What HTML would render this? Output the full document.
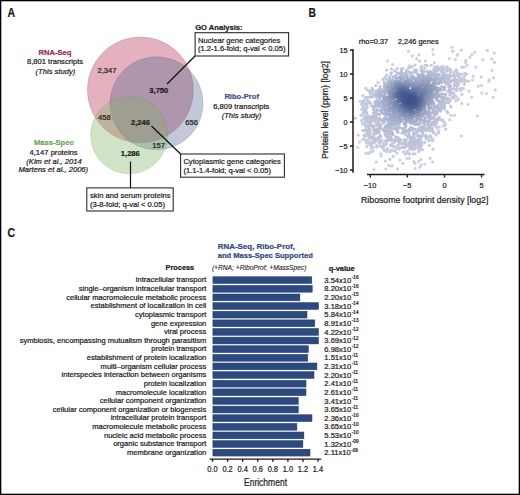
<!DOCTYPE html>
<html><head><meta charset="utf-8">
<style>
html,body{margin:0;padding:0;background:#fff;}
body{width:520px;height:495px;overflow:hidden;position:relative;}
svg{position:absolute;left:0;top:0;}
text{font-family:"Liberation Sans",sans-serif;fill:#1d1a1b;stroke:#1d1a1b;stroke-width:0.22px;}
.b{font-weight:bold;}
.i{font-style:italic;}
</style></head><body>
<svg width="520" height="495" viewBox="0 0 520 495">
<rect x="0.5" y="0.5" width="519" height="494" fill="#fff" stroke="#000" stroke-width="1.6"/>
<!-- Panel labels -->
<text x="7.6" y="17" class="b" font-size="12" transform="translate(7.6 0) scale(0.88 1) translate(-7.6 0)">A</text>
<text x="308.5" y="17.4" class="b" font-size="12" transform="translate(308.5 0) scale(0.86 1) translate(-308.5 0)">B</text>
<text x="7.6" y="237.5" class="b" font-size="12" transform="translate(7.6 0) scale(0.88 1) translate(-7.6 0)">C</text>

<!-- Venn -->
<circle cx="140.4" cy="89.9" r="53" fill="rgb(229,177,190)" stroke="rgba(110,70,85,0.22)" stroke-width="0.9"/>
<circle cx="156.5" cy="103.3" r="46.5" fill="rgb(78,101,144)" fill-opacity="0.35" stroke="rgba(60,75,110,0.22)" stroke-width="0.9"/>
<circle cx="129.1" cy="135.3" r="38.5" fill="rgb(126,178,98)" fill-opacity="0.35" stroke="rgba(80,110,70,0.18)" stroke-width="0.9"/>

<g font-size="7.6">
<text x="97.5" y="73">2,347</text>
<text x="149.3" y="92.8" class="b">3,750</text>
<text x="98" y="120">458</text>
<text x="131" y="124.5" class="b">2,246</text>
<text x="185.2" y="124.7">656</text>
<text x="152.2" y="148.4">157</text>
<text x="120.8" y="155.8" class="b">1,286</text>

<g text-anchor="middle">
<text x="55" y="55.1" class="b" style="fill:#9c2856;stroke:#9c2856">RNA-Seq</text>
<text x="55" y="64.4">8,801 transcripts</text>
<text x="55.4" y="73.6" class="i">(This study)</text>

<text x="241.7" y="99.1" class="b" style="fill:#3a4f85;stroke:#3a4f85">Ribo-Prof</text>
<text x="241.3" y="108.9">6,809 transcripts</text>
<text x="241.5" y="118.2" class="i">(This study)</text>

<text x="53.8" y="145" class="b" style="fill:#70a660;stroke:#70a660">Mass-Spec</text>
<text x="53.6" y="155">4,147 proteins</text>
<text x="54" y="163.8" class="i">(Kim et al., 2014</text>
<text x="53.3" y="172.4" class="i">Martens et al., 2006)</text>
</g>

<text x="195.2" y="29.7" class="b">GO Analysis:</text>
<text x="198" y="42.5">Nuclear gene categories</text>
<text x="198" y="51.1">(1.2-1.6-fold; q-val &lt; 0.05)</text>
<text x="183.4" y="164.2">Cytoplasmic gene categories</text>
<text x="183.4" y="173">(1.1-1.4-fold; q-val &lt; 0.05)</text>
<text x="90" y="198">skin and serum proteins</text>
<text x="90" y="207">(3-8-fold; q-val &lt; 0.05)</text>
</g>
<g fill="none" stroke="#2a2a2a" stroke-width="1.1">
<rect x="195.1" y="32.7" width="93.5" height="23.3"/>
<rect x="180.6" y="154" width="103.8" height="23.2"/>
<rect x="86.8" y="187.9" width="86.4" height="23.1"/>
<line x1="195" y1="56" x2="167" y2="84" stroke="#111" stroke-width="1.25"/>
<line x1="151.5" y1="126" x2="180.6" y2="154" stroke="#111" stroke-width="1.25"/>
<line x1="130.5" y1="161.5" x2="130.5" y2="188" stroke="#111" stroke-width="1.2"/>
</g>

<!-- Panel B -->
<g>
<circle cx="461.4" cy="136.0" r="1.6" fill="#ced1e3"/><circle cx="477.4" cy="115.8" r="1.6" fill="#ced1e3"/><circle cx="493.2" cy="97.4" r="1.6" fill="#ced1e3"/><circle cx="374.0" cy="169.4" r="1.6" fill="#ced1e3"/><circle cx="487.3" cy="50.4" r="1.6" fill="#ced1e3"/><circle cx="494.3" cy="53.1" r="1.6" fill="#ced1e3"/><circle cx="432.8" cy="49.6" r="1.6" fill="#ced1e3"/><circle cx="495.3" cy="89.9" r="1.6" fill="#ced1e3"/><circle cx="408.5" cy="51.3" r="1.6" fill="#ced1e3"/><circle cx="494.5" cy="62.4" r="1.6" fill="#ced1e3"/><circle cx="492.1" cy="70.4" r="1.6" fill="#ced1e3"/><circle cx="482.8" cy="59.7" r="1.6" fill="#ced1e3"/><circle cx="491.8" cy="59.0" r="1.6" fill="#ced1e3"/><circle cx="432.6" cy="161.9" r="1.6" fill="#ced1e3"/><circle cx="493.5" cy="77.7" r="1.6" fill="#ced1e3"/><circle cx="474.8" cy="52.3" r="1.6" fill="#ced1e3"/><circle cx="486.4" cy="93.5" r="1.6" fill="#ced1e3"/><circle cx="468.2" cy="104.5" r="1.6" fill="#ced1e3"/><circle cx="481.9" cy="92.9" r="1.6" fill="#ced1e3"/><circle cx="451.8" cy="47.3" r="1.6" fill="#ced1e3"/><circle cx="387.4" cy="61.0" r="1.6" fill="#ced1e3"/><circle cx="489.3" cy="79.9" r="1.6" fill="#ced1e3"/><circle cx="488.8" cy="81.5" r="1.6" fill="#ced1e3"/><circle cx="471.8" cy="54.7" r="1.6" fill="#ced1e3"/><circle cx="397.5" cy="168.8" r="1.6" fill="#ced1e3"/><circle cx="385.7" cy="169.0" r="1.6" fill="#ced1e3"/><circle cx="471.8" cy="97.1" r="1.6" fill="#ced1e3"/><circle cx="461.2" cy="50.2" r="1.6" fill="#ced1e3"/><circle cx="481.2" cy="76.9" r="1.6" fill="#ced1e3"/><circle cx="475.8" cy="67.2" r="1.6" fill="#ced1e3"/><circle cx="481.6" cy="85.5" r="1.6" fill="#ced1e3"/><circle cx="433.3" cy="54.5" r="1.6" fill="#ced1e3"/><circle cx="415.1" cy="168.6" r="1.6" fill="#ced1e3"/><circle cx="452.8" cy="51.1" r="1.6" fill="#ced1e3"/><circle cx="430.0" cy="158.2" r="1.6" fill="#ced1e3"/><circle cx="452.9" cy="51.3" r="1.6" fill="#ced1e3"/><circle cx="469.9" cy="57.4" r="1.6" fill="#ced1e3"/><circle cx="376.3" cy="162.1" r="1.6" fill="#ced1e3"/><circle cx="478.2" cy="86.2" r="1.6" fill="#ced1e3"/><circle cx="418.9" cy="54.8" r="1.6" fill="#ced1e3"/><circle cx="412.3" cy="55.8" r="1.6" fill="#ced1e3"/><circle cx="420.0" cy="167.2" r="1.6" fill="#ced1e3"/><circle cx="424.8" cy="164.1" r="1.6" fill="#ced1e3"/><circle cx="357.7" cy="147.5" r="1.6" fill="#ced1e3"/><circle cx="390.9" cy="166.0" r="1.6" fill="#ced1e3"/><circle cx="457.7" cy="54.6" r="1.6" fill="#ced1e3"/><circle cx="392.1" cy="165.8" r="1.6" fill="#ced1e3"/><circle cx="388.9" cy="165.6" r="1.6" fill="#ced1e3"/><circle cx="457.4" cy="55.2" r="1.6" fill="#cdd1e3"/><circle cx="421.2" cy="164.8" r="1.6" fill="#cdd1e3"/><circle cx="465.8" cy="60.5" r="1.6" fill="#cdd0e3"/><circle cx="402.9" cy="163.3" r="1.6" fill="#cdd0e3"/><circle cx="433.1" cy="149.2" r="1.6" fill="#cdd0e3"/><circle cx="454.4" cy="115.3" r="1.6" fill="#cdd0e3"/><circle cx="465.7" cy="62.4" r="1.6" fill="#cdd0e3"/><circle cx="461.7" cy="103.4" r="1.6" fill="#cdd0e3"/><circle cx="455.3" cy="59.3" r="1.6" fill="#cdd0e3"/><circle cx="449.4" cy="58.6" r="1.6" fill="#cdd0e3"/><circle cx="385.3" cy="161.0" r="1.6" fill="#cdd0e3"/><circle cx="473.3" cy="76.2" r="1.6" fill="#cdd0e3"/><circle cx="415.0" cy="163.4" r="1.6" fill="#cdd0e3"/><circle cx="467.0" cy="65.2" r="1.6" fill="#cdd0e2"/><circle cx="469.1" cy="91.0" r="1.6" fill="#cdd0e2"/><circle cx="365.9" cy="153.5" r="1.6" fill="#cdd0e2"/><circle cx="416.8" cy="58.7" r="1.6" fill="#cdd0e2"/><circle cx="418.7" cy="161.5" r="1.6" fill="#cdd0e2"/><circle cx="355.3" cy="118.3" r="1.6" fill="#cdd0e2"/><circle cx="392.6" cy="64.5" r="1.6" fill="#cdd0e2"/><circle cx="472.4" cy="80.0" r="1.6" fill="#cdd0e2"/><circle cx="399.9" cy="160.1" r="1.6" fill="#ccd0e2"/><circle cx="420.7" cy="159.6" r="1.6" fill="#ccd0e2"/><circle cx="413.9" cy="161.5" r="1.6" fill="#ccd0e2"/><circle cx="390.0" cy="159.4" r="1.6" fill="#ccd0e2"/><circle cx="367.5" cy="153.0" r="1.6" fill="#ccd0e2"/><circle cx="445.8" cy="129.2" r="1.6" fill="#ccd0e2"/><circle cx="369.1" cy="153.5" r="1.6" fill="#cccfe2"/><circle cx="449.7" cy="119.8" r="1.6" fill="#cccfe2"/><circle cx="359.6" cy="142.0" r="1.6" fill="#cccfe2"/><circle cx="358.2" cy="135.2" r="1.6" fill="#cccfe2"/><circle cx="381.3" cy="155.9" r="1.6" fill="#cccfe2"/><circle cx="365.7" cy="88.3" r="1.6" fill="#cccfe2"/><circle cx="451.0" cy="115.4" r="1.6" fill="#cccfe2"/><circle cx="463.8" cy="67.3" r="1.6" fill="#cccfe2"/><circle cx="425.4" cy="61.0" r="1.6" fill="#cccfe2"/><circle cx="419.5" cy="61.1" r="1.6" fill="#cccfe2"/><circle cx="370.1" cy="152.3" r="1.6" fill="#cbcfe2"/><circle cx="386.8" cy="70.2" r="1.6" fill="#cbcfe2"/><circle cx="461.7" cy="67.1" r="1.6" fill="#cbcfe1"/><circle cx="407.0" cy="158.3" r="1.6" fill="#cbcfe1"/><circle cx="393.1" cy="156.4" r="1.6" fill="#cbcfe1"/><circle cx="409.4" cy="158.3" r="1.6" fill="#cbcee1"/><circle cx="380.8" cy="153.8" r="1.6" fill="#cbcee1"/><circle cx="461.9" cy="94.6" r="1.6" fill="#cbcee1"/><circle cx="445.0" cy="125.3" r="1.6" fill="#cbcee1"/><circle cx="360.0" cy="101.2" r="1.6" fill="#cbcee1"/><circle cx="468.4" cy="81.3" r="1.6" fill="#cbcee1"/><circle cx="458.4" cy="99.3" r="1.6" fill="#cacee1"/><circle cx="429.3" cy="145.5" r="1.6" fill="#cacee1"/><circle cx="373.0" cy="151.3" r="1.6" fill="#cacee1"/><circle cx="466.6" cy="74.0" r="1.6" fill="#cacee1"/><circle cx="391.3" cy="68.8" r="1.6" fill="#cacee1"/><circle cx="445.0" cy="123.8" r="1.6" fill="#cacee1"/><circle cx="363.0" cy="95.7" r="1.6" fill="#cacee1"/><circle cx="432.8" cy="140.6" r="1.6" fill="#cacee1"/><circle cx="434.4" cy="62.6" r="1.6" fill="#cacee1"/><circle cx="443.3" cy="126.0" r="1.6" fill="#cacde0"/><circle cx="438.6" cy="133.0" r="1.6" fill="#cacde0"/><circle cx="366.9" cy="146.7" r="1.6" fill="#cacde0"/><circle cx="465.0" cy="73.3" r="1.6" fill="#cacde0"/><circle cx="362.3" cy="139.5" r="1.6" fill="#cacde0"/><circle cx="367.5" cy="90.1" r="1.6" fill="#cacde0"/><circle cx="455.9" cy="100.8" r="1.6" fill="#c9cde0"/><circle cx="371.2" cy="149.1" r="1.6" fill="#c9cde0"/><circle cx="432.8" cy="139.1" r="1.6" fill="#c9cde0"/><circle cx="463.4" cy="88.5" r="1.6" fill="#c9cde0"/><circle cx="465.1" cy="74.9" r="1.6" fill="#c9cde0"/><circle cx="437.9" cy="132.9" r="1.6" fill="#c9cde0"/><circle cx="466.2" cy="80.7" r="1.6" fill="#c9cde0"/><circle cx="396.9" cy="153.1" r="1.6" fill="#c9cde0"/><circle cx="431.6" cy="139.9" r="1.6" fill="#c9cde0"/><circle cx="435.9" cy="135.1" r="1.6" fill="#c9cde0"/><circle cx="361.6" cy="104.2" r="1.6" fill="#c9cce0"/><circle cx="444.0" cy="122.1" r="1.6" fill="#c9cce0"/><circle cx="415.2" cy="65.1" r="1.6" fill="#c9cce0"/><circle cx="409.4" cy="65.8" r="1.6" fill="#c9cce0"/><circle cx="387.2" cy="151.7" r="1.6" fill="#c9cce0"/><circle cx="362.7" cy="101.6" r="1.6" fill="#c8cce0"/><circle cx="438.7" cy="130.9" r="1.6" fill="#c8cce0"/><circle cx="390.2" cy="151.7" r="1.6" fill="#c8cce0"/><circle cx="405.4" cy="154.2" r="1.6" fill="#c8cce0"/><circle cx="460.9" cy="90.5" r="1.6" fill="#c8cce0"/><circle cx="447.9" cy="112.8" r="1.6" fill="#c8cce0"/><circle cx="464.4" cy="84.3" r="1.6" fill="#c8cce0"/><circle cx="386.0" cy="150.8" r="1.6" fill="#c8cce0"/><circle cx="384.4" cy="150.4" r="1.6" fill="#c8ccdf"/><circle cx="361.0" cy="115.3" r="1.6" fill="#c8ccdf"/><circle cx="363.6" cy="100.7" r="1.6" fill="#c8ccdf"/><circle cx="390.3" cy="151.0" r="1.6" fill="#c8ccdf"/><circle cx="450.9" cy="107.0" r="1.6" fill="#c8ccdf"/><circle cx="425.3" cy="65.1" r="1.6" fill="#c8ccdf"/><circle cx="366.7" cy="143.2" r="1.6" fill="#c8ccdf"/><circle cx="422.4" cy="149.7" r="1.6" fill="#c8ccdf"/><circle cx="456.4" cy="69.8" r="1.6" fill="#c8ccdf"/><circle cx="456.3" cy="96.6" r="1.6" fill="#c8ccdf"/><circle cx="464.5" cy="81.7" r="1.6" fill="#c8ccdf"/><circle cx="372.7" cy="147.4" r="1.6" fill="#c8cbdf"/><circle cx="464.0" cy="76.5" r="1.6" fill="#c8cbdf"/><circle cx="361.9" cy="109.7" r="1.6" fill="#c8cbdf"/><circle cx="415.0" cy="153.8" r="1.6" fill="#c8cbdf"/><circle cx="409.2" cy="154.1" r="1.6" fill="#c8cbdf"/><circle cx="378.1" cy="82.5" r="1.6" fill="#c7cbdf"/><circle cx="394.7" cy="151.0" r="1.6" fill="#c7cbdf"/><circle cx="390.6" cy="150.5" r="1.6" fill="#c7cbdf"/><circle cx="397.2" cy="68.7" r="1.6" fill="#c7cbdf"/><circle cx="373.2" cy="147.4" r="1.6" fill="#c7cbdf"/><circle cx="461.2" cy="88.5" r="1.6" fill="#c7cbdf"/><circle cx="383.6" cy="149.3" r="1.6" fill="#c7cbdf"/><circle cx="412.9" cy="153.9" r="1.6" fill="#c7cbdf"/><circle cx="365.5" cy="97.5" r="1.6" fill="#c7cbdf"/><circle cx="365.3" cy="140.3" r="1.6" fill="#c7cbdf"/><circle cx="361.7" cy="120.7" r="1.6" fill="#c7cbdf"/><circle cx="461.8" cy="74.0" r="1.6" fill="#c7cbdf"/><circle cx="363.6" cy="102.9" r="1.6" fill="#c7cbdf"/><circle cx="364.4" cy="100.6" r="1.6" fill="#c7cbdf"/><circle cx="392.7" cy="150.3" r="1.6" fill="#c7cbdf"/><circle cx="412.2" cy="66.7" r="1.6" fill="#c7cbdf"/><circle cx="450.6" cy="106.3" r="1.6" fill="#c7cbdf"/><circle cx="427.2" cy="65.5" r="1.6" fill="#c7cbdf"/><circle cx="431.3" cy="65.3" r="1.6" fill="#c7cbdf"/><circle cx="370.7" cy="145.7" r="1.6" fill="#c7cbdf"/><circle cx="447.2" cy="66.8" r="1.6" fill="#c7cbdf"/><circle cx="408.9" cy="153.5" r="1.6" fill="#c7cbdf"/><circle cx="363.0" cy="106.7" r="1.6" fill="#c7cbdf"/><circle cx="428.7" cy="140.5" r="1.6" fill="#c7cbdf"/><circle cx="369.5" cy="91.2" r="1.6" fill="#c7cbdf"/><circle cx="455.6" cy="70.3" r="1.6" fill="#c7cbdf"/><circle cx="463.7" cy="78.8" r="1.6" fill="#c7cbdf"/><circle cx="362.9" cy="130.3" r="1.6" fill="#c7cbdf"/><circle cx="386.6" cy="75.2" r="1.6" fill="#c7cbdf"/><circle cx="364.4" cy="137.3" r="1.6" fill="#c7cbdf"/><circle cx="463.6" cy="79.5" r="1.6" fill="#c7cbdf"/><circle cx="410.3" cy="67.2" r="1.6" fill="#c7cbdf"/><circle cx="403.4" cy="151.9" r="1.6" fill="#c7cbdf"/><circle cx="439.4" cy="127.0" r="1.6" fill="#c7cbdf"/><circle cx="362.4" cy="123.8" r="1.6" fill="#c6cbdf"/><circle cx="372.1" cy="88.7" r="1.6" fill="#c6cade"/><circle cx="418.6" cy="151.3" r="1.6" fill="#c6cade"/><circle cx="394.2" cy="70.5" r="1.6" fill="#c6cade"/><circle cx="364.1" cy="135.2" r="1.6" fill="#c6cade"/><circle cx="369.9" cy="144.3" r="1.6" fill="#c6cade"/><circle cx="383.4" cy="148.0" r="1.6" fill="#c6cade"/><circle cx="446.6" cy="67.2" r="1.6" fill="#c6cade"/><circle cx="454.1" cy="97.9" r="1.6" fill="#c6cade"/><circle cx="387.4" cy="148.7" r="1.6" fill="#c6cade"/><circle cx="421.6" cy="66.4" r="1.6" fill="#c6cade"/><circle cx="363.5" cy="108.2" r="1.6" fill="#c6cade"/><circle cx="372.4" cy="88.6" r="1.6" fill="#c6cade"/><circle cx="442.4" cy="120.0" r="1.6" fill="#c6cade"/><circle cx="459.7" cy="88.8" r="1.6" fill="#c6cade"/><circle cx="430.8" cy="136.7" r="1.6" fill="#c6cade"/><circle cx="408.0" cy="152.6" r="1.6" fill="#c6cade"/><circle cx="375.8" cy="85.6" r="1.6" fill="#c6cade"/><circle cx="446.8" cy="111.3" r="1.6" fill="#c6cade"/><circle cx="377.0" cy="146.8" r="1.6" fill="#c6cade"/><circle cx="362.8" cy="114.1" r="1.6" fill="#c6cade"/><circle cx="454.8" cy="96.1" r="1.6" fill="#c6cade"/><circle cx="430.6" cy="136.6" r="1.6" fill="#c6cade"/><circle cx="366.9" cy="97.4" r="1.6" fill="#c6cade"/><circle cx="420.3" cy="149.6" r="1.6" fill="#c6cade"/><circle cx="442.1" cy="120.2" r="1.6" fill="#c6cade"/><circle cx="443.2" cy="66.5" r="1.6" fill="#c6cade"/><circle cx="434.2" cy="132.7" r="1.6" fill="#c6cade"/><circle cx="382.3" cy="147.2" r="1.6" fill="#c6cade"/><circle cx="385.0" cy="77.3" r="1.6" fill="#c6cade"/><circle cx="402.6" cy="68.5" r="1.6" fill="#c6cade"/><circle cx="457.5" cy="72.5" r="1.6" fill="#c6cade"/><circle cx="459.8" cy="74.3" r="1.6" fill="#c6cade"/><circle cx="449.8" cy="69.0" r="1.6" fill="#c5cade"/><circle cx="364.8" cy="105.1" r="1.6" fill="#c5cade"/><circle cx="382.9" cy="79.5" r="1.6" fill="#c5cade"/><circle cx="367.5" cy="140.6" r="1.6" fill="#c5cade"/><circle cx="408.7" cy="68.2" r="1.6" fill="#c5c9de"/><circle cx="363.7" cy="112.7" r="1.6" fill="#c5c9de"/><circle cx="396.5" cy="148.6" r="1.6" fill="#c5c9de"/><circle cx="399.1" cy="149.1" r="1.6" fill="#c5c9de"/><circle cx="371.9" cy="90.1" r="1.6" fill="#c5c9de"/><circle cx="391.3" cy="72.8" r="1.6" fill="#c5c9de"/><circle cx="401.3" cy="69.1" r="1.6" fill="#c5c9de"/><circle cx="369.8" cy="142.6" r="1.6" fill="#c5c9de"/><circle cx="376.6" cy="145.5" r="1.6" fill="#c5c9de"/><circle cx="364.0" cy="112.4" r="1.6" fill="#c5c9de"/><circle cx="433.2" cy="132.6" r="1.6" fill="#c5c9de"/><circle cx="437.7" cy="66.5" r="1.6" fill="#c5c9de"/><circle cx="407.2" cy="151.3" r="1.6" fill="#c5c9dd"/><circle cx="380.1" cy="145.9" r="1.6" fill="#c5c9dd"/><circle cx="430.1" cy="135.7" r="1.6" fill="#c5c9dd"/><circle cx="365.5" cy="135.5" r="1.6" fill="#c5c9dd"/><circle cx="371.7" cy="143.6" r="1.6" fill="#c5c9dd"/><circle cx="461.3" cy="78.5" r="1.6" fill="#c5c9dd"/><circle cx="436.9" cy="127.9" r="1.6" fill="#c5c9dd"/><circle cx="364.5" cy="111.2" r="1.6" fill="#c5c9dd"/><circle cx="366.0" cy="103.5" r="1.6" fill="#c5c9dd"/><circle cx="363.7" cy="118.7" r="1.6" fill="#c5c9dd"/><circle cx="428.6" cy="137.1" r="1.6" fill="#c5c9dd"/><circle cx="419.5" cy="148.9" r="1.6" fill="#c4c9dd"/><circle cx="368.3" cy="97.0" r="1.6" fill="#c4c9dd"/><circle cx="369.8" cy="141.9" r="1.6" fill="#c4c9dd"/><circle cx="461.2" cy="81.6" r="1.6" fill="#c4c9dd"/><circle cx="364.1" cy="123.0" r="1.6" fill="#c4c9dd"/><circle cx="370.3" cy="93.3" r="1.6" fill="#c4c9dd"/><circle cx="456.5" cy="90.7" r="1.6" fill="#c4c9dd"/><circle cx="441.2" cy="67.2" r="1.6" fill="#c4c9dd"/><circle cx="461.1" cy="79.8" r="1.6" fill="#c4c9dd"/><circle cx="420.9" cy="67.7" r="1.6" fill="#c4c9dd"/><circle cx="364.9" cy="130.4" r="1.6" fill="#c4c9dd"/><circle cx="459.1" cy="75.7" r="1.6" fill="#c4c9dd"/><circle cx="441.9" cy="67.4" r="1.6" fill="#c4c9dd"/><circle cx="372.9" cy="90.0" r="1.6" fill="#c4c8dd"/><circle cx="400.1" cy="148.2" r="1.6" fill="#c4c8dd"/><circle cx="424.6" cy="142.3" r="1.6" fill="#c4c8dd"/><circle cx="447.3" cy="69.1" r="1.6" fill="#c4c8dd"/><circle cx="452.1" cy="98.1" r="1.6" fill="#c4c8dd"/><circle cx="383.4" cy="145.4" r="1.6" fill="#c4c8dd"/><circle cx="393.4" cy="146.7" r="1.6" fill="#c4c8dd"/><circle cx="450.8" cy="70.7" r="1.6" fill="#c4c8dd"/><circle cx="366.4" cy="104.6" r="1.6" fill="#c4c8dd"/><circle cx="367.5" cy="100.6" r="1.6" fill="#c4c8dd"/><circle cx="384.4" cy="145.3" r="1.6" fill="#c4c8dd"/><circle cx="372.0" cy="142.7" r="1.6" fill="#c4c8dd"/><circle cx="436.2" cy="67.2" r="1.6" fill="#c4c8dd"/><circle cx="365.5" cy="109.9" r="1.6" fill="#c4c8dd"/><circle cx="434.8" cy="67.2" r="1.6" fill="#c4c8dd"/><circle cx="457.2" cy="88.7" r="1.6" fill="#c4c8dd"/><circle cx="366.0" cy="108.0" r="1.6" fill="#c4c8dd"/><circle cx="454.0" cy="93.7" r="1.6" fill="#c4c8dd"/><circle cx="460.4" cy="80.7" r="1.6" fill="#c4c8dd"/><circle cx="390.9" cy="145.9" r="1.6" fill="#c4c8dd"/><circle cx="454.1" cy="72.7" r="1.6" fill="#c4c8dd"/><circle cx="364.7" cy="116.6" r="1.6" fill="#c4c8dd"/><circle cx="394.5" cy="146.3" r="1.6" fill="#c4c8dd"/><circle cx="367.9" cy="100.5" r="1.6" fill="#c4c8dd"/><circle cx="458.6" cy="76.0" r="1.6" fill="#c4c8dd"/><circle cx="452.2" cy="96.6" r="1.6" fill="#c3c8dd"/><circle cx="426.1" cy="138.5" r="1.6" fill="#c3c8dd"/><circle cx="459.1" cy="77.1" r="1.6" fill="#c3c8dd"/><circle cx="390.9" cy="74.2" r="1.6" fill="#c3c8dd"/><circle cx="450.2" cy="100.7" r="1.6" fill="#c3c8dc"/><circle cx="365.0" cy="122.6" r="1.6" fill="#c3c8dc"/><circle cx="418.7" cy="148.3" r="1.6" fill="#c3c8dc"/><circle cx="366.0" cy="110.7" r="1.6" fill="#c3c8dc"/><circle cx="374.2" cy="142.8" r="1.6" fill="#c3c8dc"/><circle cx="397.9" cy="146.3" r="1.6" fill="#c3c8dc"/><circle cx="457.8" cy="75.9" r="1.6" fill="#c3c8dc"/><circle cx="459.8" cy="80.2" r="1.6" fill="#c3c8dc"/><circle cx="366.7" cy="134.2" r="1.6" fill="#c3c7dc"/><circle cx="365.1" cy="119.1" r="1.6" fill="#c3c7dc"/><circle cx="365.9" cy="112.3" r="1.6" fill="#c3c7dc"/><circle cx="420.9" cy="145.9" r="1.6" fill="#c3c7dc"/><circle cx="365.5" cy="125.2" r="1.6" fill="#c3c7dc"/><circle cx="390.7" cy="144.8" r="1.6" fill="#c3c7dc"/><circle cx="421.5" cy="145.2" r="1.6" fill="#c3c7dc"/><circle cx="391.7" cy="144.9" r="1.6" fill="#c3c7dc"/><circle cx="386.4" cy="144.1" r="1.6" fill="#c3c7dc"/><circle cx="366.0" cy="129.3" r="1.6" fill="#c3c7dc"/><circle cx="456.2" cy="75.0" r="1.6" fill="#c3c7dc"/><circle cx="424.5" cy="68.3" r="1.6" fill="#c3c7dc"/><circle cx="383.2" cy="143.7" r="1.6" fill="#c3c7dc"/><circle cx="458.7" cy="83.9" r="1.6" fill="#c3c7dc"/><circle cx="420.4" cy="146.3" r="1.6" fill="#c3c7dc"/><circle cx="402.1" cy="147.2" r="1.6" fill="#c3c7dc"/><circle cx="367.5" cy="135.5" r="1.6" fill="#c3c7dc"/><circle cx="366.4" cy="131.1" r="1.6" fill="#c2c7dc"/><circle cx="444.1" cy="69.1" r="1.6" fill="#c2c7dc"/><circle cx="365.6" cy="117.0" r="1.6" fill="#c2c7dc"/><circle cx="367.4" cy="107.1" r="1.6" fill="#c2c7dc"/><circle cx="447.5" cy="70.4" r="1.6" fill="#c2c7dc"/><circle cx="448.6" cy="103.0" r="1.6" fill="#c2c7dc"/><circle cx="368.9" cy="137.9" r="1.6" fill="#c2c7dc"/><circle cx="372.5" cy="92.2" r="1.6" fill="#c2c7dc"/><circle cx="403.9" cy="147.8" r="1.6" fill="#c2c7dc"/><circle cx="439.6" cy="119.5" r="1.6" fill="#c2c7dc"/><circle cx="366.6" cy="112.8" r="1.6" fill="#c2c7dc"/><circle cx="413.0" cy="149.7" r="1.6" fill="#c2c7dc"/><circle cx="379.3" cy="142.8" r="1.6" fill="#c2c7dc"/><circle cx="457.6" cy="85.2" r="1.6" fill="#c2c7dc"/><circle cx="440.0" cy="68.4" r="1.6" fill="#c2c7dc"/><circle cx="404.1" cy="147.6" r="1.6" fill="#c2c7dc"/><circle cx="366.1" cy="126.3" r="1.6" fill="#c2c7dc"/><circle cx="379.8" cy="142.7" r="1.6" fill="#c2c7dc"/><circle cx="365.8" cy="119.4" r="1.6" fill="#c2c7dc"/><circle cx="436.1" cy="125.8" r="1.6" fill="#c2c7dc"/><circle cx="431.9" cy="130.3" r="1.6" fill="#c2c7dc"/><circle cx="398.1" cy="144.9" r="1.6" fill="#c2c7dc"/><circle cx="372.1" cy="93.3" r="1.6" fill="#c2c7dc"/><circle cx="396.3" cy="72.1" r="1.6" fill="#c2c7dc"/><circle cx="368.7" cy="103.2" r="1.6" fill="#c2c7dc"/><circle cx="370.5" cy="96.7" r="1.6" fill="#c2c6dc"/><circle cx="366.4" cy="126.6" r="1.6" fill="#c2c6dc"/><circle cx="414.7" cy="69.8" r="1.6" fill="#c2c6dc"/><circle cx="441.4" cy="68.9" r="1.6" fill="#c2c6dc"/><circle cx="450.6" cy="72.5" r="1.6" fill="#c2c6dc"/><circle cx="366.1" cy="120.2" r="1.6" fill="#c2c6dc"/><circle cx="456.9" cy="85.8" r="1.6" fill="#c2c6dc"/><circle cx="367.1" cy="131.1" r="1.6" fill="#c2c6dc"/><circle cx="367.6" cy="133.3" r="1.6" fill="#c2c6db"/><circle cx="426.0" cy="135.8" r="1.6" fill="#c2c6db"/><circle cx="404.0" cy="146.9" r="1.6" fill="#c1c6db"/><circle cx="414.6" cy="148.9" r="1.6" fill="#c1c6db"/><circle cx="367.0" cy="114.2" r="1.6" fill="#c1c6db"/><circle cx="420.2" cy="145.3" r="1.6" fill="#c1c6db"/><circle cx="425.4" cy="136.5" r="1.6" fill="#c1c6db"/><circle cx="406.4" cy="70.4" r="1.6" fill="#c1c6db"/><circle cx="409.7" cy="148.9" r="1.6" fill="#c1c6db"/><circle cx="458.0" cy="80.9" r="1.6" fill="#c1c6db"/><circle cx="369.3" cy="102.0" r="1.6" fill="#c1c6db"/><circle cx="375.9" cy="141.4" r="1.6" fill="#c1c6db"/><circle cx="454.5" cy="89.1" r="1.6" fill="#c1c6db"/><circle cx="379.9" cy="141.9" r="1.6" fill="#c1c6db"/><circle cx="457.9" cy="80.1" r="1.6" fill="#c1c6db"/><circle cx="432.5" cy="129.0" r="1.6" fill="#c1c6db"/><circle cx="415.6" cy="70.0" r="1.6" fill="#c1c6db"/><circle cx="443.4" cy="69.7" r="1.6" fill="#c1c6db"/><circle cx="401.5" cy="71.0" r="1.6" fill="#c1c6db"/><circle cx="369.0" cy="135.8" r="1.6" fill="#c1c6db"/><circle cx="386.2" cy="79.0" r="1.6" fill="#c1c6db"/><circle cx="421.7" cy="142.6" r="1.6" fill="#c1c6db"/><circle cx="393.8" cy="142.9" r="1.6" fill="#c1c6db"/><circle cx="454.9" cy="75.9" r="1.6" fill="#c1c6db"/><circle cx="429.9" cy="131.0" r="1.6" fill="#c1c6db"/><circle cx="438.1" cy="68.9" r="1.6" fill="#c1c6db"/><circle cx="411.4" cy="148.8" r="1.6" fill="#c1c6db"/><circle cx="451.9" cy="92.8" r="1.6" fill="#c1c6db"/><circle cx="373.8" cy="140.1" r="1.6" fill="#c1c6db"/><circle cx="415.9" cy="148.0" r="1.6" fill="#c1c6db"/><circle cx="454.1" cy="75.5" r="1.6" fill="#c1c6db"/><circle cx="446.6" cy="71.2" r="1.6" fill="#c1c6db"/><circle cx="371.8" cy="138.7" r="1.6" fill="#c1c6db"/><circle cx="425.6" cy="135.0" r="1.6" fill="#c1c6db"/><circle cx="405.4" cy="146.7" r="1.6" fill="#c1c5db"/><circle cx="416.5" cy="70.2" r="1.6" fill="#c1c5db"/><circle cx="456.3" cy="84.5" r="1.6" fill="#c1c5db"/><circle cx="369.7" cy="135.8" r="1.6" fill="#c1c5db"/><circle cx="448.0" cy="101.5" r="1.6" fill="#c1c5db"/><circle cx="444.3" cy="108.4" r="1.6" fill="#c0c5db"/><circle cx="418.3" cy="146.2" r="1.6" fill="#c0c5db"/><circle cx="435.5" cy="124.7" r="1.6" fill="#c0c5db"/><circle cx="386.4" cy="141.4" r="1.6" fill="#c0c5db"/><circle cx="439.2" cy="117.4" r="1.6" fill="#c0c5db"/><circle cx="456.8" cy="79.8" r="1.6" fill="#c0c5db"/><circle cx="442.9" cy="70.2" r="1.6" fill="#c0c5db"/><circle cx="379.4" cy="140.6" r="1.6" fill="#c0c5db"/><circle cx="444.0" cy="108.6" r="1.6" fill="#c0c5db"/><circle cx="415.9" cy="70.5" r="1.6" fill="#c0c5db"/><circle cx="432.3" cy="128.1" r="1.6" fill="#c0c5db"/><circle cx="385.4" cy="140.9" r="1.6" fill="#c0c5db"/><circle cx="400.3" cy="143.0" r="1.6" fill="#c0c5db"/><circle cx="371.5" cy="97.2" r="1.6" fill="#c0c5db"/><circle cx="371.0" cy="136.8" r="1.6" fill="#c0c5db"/><circle cx="453.6" cy="88.6" r="1.6" fill="#c0c5db"/><circle cx="367.6" cy="121.6" r="1.6" fill="#c0c5db"/><circle cx="410.4" cy="147.9" r="1.6" fill="#c0c5db"/><circle cx="381.9" cy="140.5" r="1.6" fill="#c0c5db"/><circle cx="448.7" cy="98.6" r="1.6" fill="#c0c5db"/><circle cx="368.0" cy="116.7" r="1.6" fill="#c0c5da"/><circle cx="401.1" cy="143.1" r="1.6" fill="#c0c5da"/><circle cx="436.0" cy="123.4" r="1.6" fill="#c0c5da"/><circle cx="370.4" cy="103.0" r="1.6" fill="#c0c5da"/><circle cx="401.8" cy="143.4" r="1.6" fill="#c0c5da"/><circle cx="437.7" cy="120.0" r="1.6" fill="#c0c5da"/><circle cx="412.0" cy="147.9" r="1.6" fill="#c0c5da"/><circle cx="434.1" cy="69.3" r="1.6" fill="#c0c5da"/><circle cx="395.1" cy="141.1" r="1.6" fill="#c0c5da"/><circle cx="434.5" cy="125.2" r="1.6" fill="#c0c5da"/><circle cx="398.8" cy="141.5" r="1.6" fill="#c0c5da"/><circle cx="369.4" cy="133.3" r="1.6" fill="#c0c5da"/><circle cx="373.7" cy="138.5" r="1.6" fill="#c0c5da"/><circle cx="368.1" cy="123.1" r="1.6" fill="#c0c5da"/><circle cx="368.2" cy="118.5" r="1.6" fill="#c0c5da"/><circle cx="456.0" cy="82.2" r="1.6" fill="#c0c5da"/><circle cx="451.0" cy="92.4" r="1.6" fill="#c0c5da"/><circle cx="387.6" cy="140.5" r="1.6" fill="#c0c5da"/><circle cx="402.7" cy="143.4" r="1.6" fill="#c0c5da"/><circle cx="398.2" cy="141.1" r="1.6" fill="#c0c5da"/><circle cx="418.5" cy="145.0" r="1.6" fill="#c0c4da"/><circle cx="455.9" cy="80.8" r="1.6" fill="#c0c4da"/><circle cx="390.9" cy="140.6" r="1.6" fill="#bfc4da"/><circle cx="436.6" cy="69.6" r="1.6" fill="#bfc4da"/><circle cx="414.8" cy="147.3" r="1.6" fill="#bfc4da"/><circle cx="419.7" cy="143.4" r="1.6" fill="#bfc4da"/><circle cx="372.6" cy="137.4" r="1.6" fill="#bfc4da"/><circle cx="368.5" cy="126.1" r="1.6" fill="#bfc4da"/><circle cx="375.6" cy="138.9" r="1.6" fill="#bfc4da"/><circle cx="454.5" cy="85.7" r="1.6" fill="#bfc4da"/><circle cx="393.6" cy="140.4" r="1.6" fill="#bfc4da"/><circle cx="410.4" cy="147.3" r="1.6" fill="#bfc4da"/><circle cx="435.9" cy="122.7" r="1.6" fill="#bfc4da"/><circle cx="414.5" cy="147.2" r="1.6" fill="#bfc4da"/><circle cx="389.6" cy="76.9" r="1.6" fill="#bfc4da"/><circle cx="369.0" cy="129.8" r="1.6" fill="#bfc4da"/><circle cx="405.3" cy="144.8" r="1.6" fill="#bfc4da"/><circle cx="446.8" cy="102.1" r="1.6" fill="#bfc4da"/><circle cx="449.7" cy="94.5" r="1.6" fill="#bfc4da"/><circle cx="451.6" cy="75.5" r="1.6" fill="#bfc4da"/><circle cx="454.5" cy="78.4" r="1.6" fill="#bfc4da"/><circle cx="399.7" cy="140.4" r="1.6" fill="#bfc4da"/><circle cx="369.9" cy="132.3" r="1.6" fill="#bfc4da"/><circle cx="418.6" cy="144.3" r="1.6" fill="#bfc4da"/><circle cx="436.4" cy="121.5" r="1.6" fill="#bfc4da"/><circle cx="455.3" cy="81.1" r="1.6" fill="#bfc4da"/><circle cx="387.8" cy="139.7" r="1.6" fill="#bfc4da"/><circle cx="370.1" cy="132.8" r="1.6" fill="#bfc4da"/><circle cx="421.2" cy="70.4" r="1.6" fill="#bfc4da"/><circle cx="369.2" cy="128.5" r="1.6" fill="#bfc4da"/><circle cx="378.1" cy="138.8" r="1.6" fill="#bfc4da"/><circle cx="395.9" cy="139.6" r="1.6" fill="#bfc4da"/><circle cx="400.1" cy="140.0" r="1.6" fill="#bfc4da"/><circle cx="422.7" cy="135.7" r="1.6" fill="#bfc4da"/><circle cx="395.9" cy="139.5" r="1.6" fill="#bfc4da"/><circle cx="369.3" cy="117.0" r="1.6" fill="#bfc4da"/><circle cx="437.7" cy="118.4" r="1.6" fill="#bfc4da"/><circle cx="369.5" cy="129.5" r="1.6" fill="#bfc4da"/><circle cx="400.2" cy="139.6" r="1.6" fill="#bfc4da"/><circle cx="428.1" cy="129.9" r="1.6" fill="#bfc4da"/><circle cx="373.8" cy="137.0" r="1.6" fill="#bfc4da"/><circle cx="407.9" cy="145.7" r="1.6" fill="#bfc4da"/><circle cx="372.9" cy="96.3" r="1.6" fill="#bfc4da"/><circle cx="454.2" cy="84.6" r="1.6" fill="#bfc4da"/><circle cx="444.4" cy="106.1" r="1.6" fill="#bfc4da"/><circle cx="429.5" cy="128.7" r="1.6" fill="#bfc4da"/><circle cx="438.5" cy="70.2" r="1.6" fill="#bfc4da"/><circle cx="390.9" cy="139.3" r="1.6" fill="#bfc4da"/><circle cx="399.2" cy="138.8" r="1.6" fill="#bec4da"/><circle cx="447.8" cy="98.2" r="1.6" fill="#bec4da"/><circle cx="420.1" cy="141.0" r="1.6" fill="#bec4da"/><circle cx="369.9" cy="129.5" r="1.6" fill="#bec4da"/><circle cx="443.5" cy="107.3" r="1.6" fill="#bec4da"/><circle cx="420.9" cy="139.0" r="1.6" fill="#bec3d9"/><circle cx="435.8" cy="121.8" r="1.6" fill="#bec3d9"/><circle cx="378.0" cy="137.9" r="1.6" fill="#bec3d9"/><circle cx="433.9" cy="70.0" r="1.6" fill="#bec3d9"/><circle cx="384.4" cy="82.0" r="1.6" fill="#bec3d9"/><circle cx="371.5" cy="105.8" r="1.6" fill="#bec3d9"/><circle cx="405.3" cy="143.1" r="1.6" fill="#bec3d9"/><circle cx="415.9" cy="71.4" r="1.6" fill="#bec3d9"/><circle cx="451.0" cy="89.9" r="1.6" fill="#bec3d9"/><circle cx="391.6" cy="138.8" r="1.6" fill="#bec3d9"/><circle cx="426.5" cy="130.4" r="1.6" fill="#bec3d9"/><circle cx="418.3" cy="143.4" r="1.6" fill="#bec3d9"/><circle cx="450.2" cy="91.4" r="1.6" fill="#bec3d9"/><circle cx="380.1" cy="86.7" r="1.6" fill="#bec3d9"/><circle cx="447.2" cy="98.9" r="1.6" fill="#bec3d9"/><circle cx="420.8" cy="137.8" r="1.6" fill="#bec3d9"/><circle cx="417.9" cy="143.7" r="1.6" fill="#bec3d9"/><circle cx="398.0" cy="137.6" r="1.6" fill="#bec3d9"/><circle cx="454.0" cy="80.7" r="1.6" fill="#bec3d9"/><circle cx="411.4" cy="146.2" r="1.6" fill="#bec3d9"/><circle cx="408.4" cy="71.9" r="1.6" fill="#bec3d9"/><circle cx="397.3" cy="137.6" r="1.6" fill="#bec3d9"/><circle cx="422.6" cy="133.4" r="1.6" fill="#bec3d9"/><circle cx="403.9" cy="139.9" r="1.6" fill="#bec3d9"/><circle cx="376.2" cy="91.2" r="1.6" fill="#bec3d9"/><circle cx="405.2" cy="141.9" r="1.6" fill="#bec3d9"/><circle cx="370.2" cy="122.8" r="1.6" fill="#bec3d9"/><circle cx="427.5" cy="129.2" r="1.6" fill="#bec3d9"/><circle cx="445.5" cy="102.8" r="1.6" fill="#bec3d9"/><circle cx="370.9" cy="116.7" r="1.6" fill="#bec3d9"/><circle cx="420.5" cy="137.5" r="1.6" fill="#bec3d9"/><circle cx="449.0" cy="75.2" r="1.6" fill="#bec3d9"/><circle cx="450.8" cy="76.7" r="1.6" fill="#bec3d9"/><circle cx="444.5" cy="104.7" r="1.6" fill="#bec3d9"/><circle cx="417.6" cy="143.5" r="1.6" fill="#bec3d9"/><circle cx="450.9" cy="88.9" r="1.6" fill="#bec3d9"/><circle cx="370.5" cy="121.0" r="1.6" fill="#bec3d9"/><circle cx="380.6" cy="137.0" r="1.6" fill="#bec3d9"/><circle cx="370.6" cy="125.6" r="1.6" fill="#bec3d9"/><circle cx="370.5" cy="123.4" r="1.6" fill="#bdc3d9"/><circle cx="370.7" cy="119.5" r="1.6" fill="#bdc3d9"/><circle cx="436.0" cy="120.1" r="1.6" fill="#bdc3d9"/><circle cx="379.9" cy="136.8" r="1.6" fill="#bdc3d9"/><circle cx="380.4" cy="136.9" r="1.6" fill="#bdc3d9"/><circle cx="441.7" cy="71.6" r="1.6" fill="#bdc3d9"/><circle cx="411.5" cy="145.6" r="1.6" fill="#bdc3d9"/><circle cx="414.5" cy="71.9" r="1.6" fill="#bdc3d9"/><circle cx="371.1" cy="117.4" r="1.6" fill="#bdc3d9"/><circle cx="422.3" cy="70.9" r="1.6" fill="#bdc3d9"/><circle cx="389.6" cy="137.8" r="1.6" fill="#bdc3d9"/><circle cx="370.9" cy="120.4" r="1.6" fill="#bdc3d9"/><circle cx="380.5" cy="136.6" r="1.6" fill="#bdc3d9"/><circle cx="443.4" cy="106.2" r="1.6" fill="#bdc3d9"/><circle cx="440.3" cy="111.1" r="1.6" fill="#bdc3d9"/><circle cx="428.1" cy="128.2" r="1.6" fill="#bdc2d9"/><circle cx="429.8" cy="127.1" r="1.6" fill="#bdc2d9"/><circle cx="373.9" cy="134.3" r="1.6" fill="#bdc2d9"/><circle cx="440.5" cy="110.7" r="1.6" fill="#bdc2d9"/><circle cx="395.5" cy="136.8" r="1.6" fill="#bdc2d9"/><circle cx="446.5" cy="99.3" r="1.6" fill="#bdc2d9"/><circle cx="409.1" cy="144.4" r="1.6" fill="#bdc2d9"/><circle cx="373.8" cy="134.0" r="1.6" fill="#bdc2d9"/><circle cx="442.8" cy="106.9" r="1.6" fill="#bdc2d9"/><circle cx="442.3" cy="107.8" r="1.6" fill="#bdc2d9"/><circle cx="380.1" cy="136.2" r="1.6" fill="#bdc2d9"/><circle cx="371.8" cy="117.0" r="1.6" fill="#bdc2d9"/><circle cx="405.9" cy="72.3" r="1.6" fill="#bdc2d9"/><circle cx="390.7" cy="137.3" r="1.6" fill="#bdc2d9"/><circle cx="436.6" cy="70.9" r="1.6" fill="#bdc2d9"/><circle cx="423.4" cy="130.8" r="1.6" fill="#bdc2d9"/><circle cx="421.9" cy="132.0" r="1.6" fill="#bdc2d9"/><circle cx="415.0" cy="144.7" r="1.6" fill="#bdc2d9"/><circle cx="406.2" cy="140.2" r="1.6" fill="#bdc2d9"/><circle cx="426.4" cy="128.8" r="1.6" fill="#bdc2d9"/><circle cx="450.2" cy="88.8" r="1.6" fill="#bdc2d9"/><circle cx="376.4" cy="91.7" r="1.6" fill="#bdc2d9"/><circle cx="371.9" cy="119.1" r="1.6" fill="#bdc2d9"/><circle cx="441.8" cy="72.1" r="1.6" fill="#bdc2d9"/><circle cx="433.0" cy="123.8" r="1.6" fill="#bdc2d8"/><circle cx="408.7" cy="143.4" r="1.6" fill="#bdc2d8"/><circle cx="386.7" cy="136.8" r="1.6" fill="#bdc2d8"/><circle cx="418.4" cy="140.5" r="1.6" fill="#bdc2d8"/><circle cx="422.7" cy="71.2" r="1.6" fill="#bdc2d8"/><circle cx="374.9" cy="94.3" r="1.6" fill="#bdc2d8"/><circle cx="442.3" cy="107.3" r="1.6" fill="#bdc2d8"/><circle cx="380.4" cy="135.5" r="1.6" fill="#bdc2d8"/><circle cx="452.1" cy="80.6" r="1.6" fill="#bdc2d8"/><circle cx="435.3" cy="120.2" r="1.6" fill="#bdc2d8"/><circle cx="415.6" cy="143.8" r="1.6" fill="#bcc2d8"/><circle cx="419.2" cy="135.3" r="1.6" fill="#bcc2d8"/><circle cx="372.4" cy="125.6" r="1.6" fill="#bcc2d8"/><circle cx="373.0" cy="106.0" r="1.6" fill="#bcc2d8"/><circle cx="419.0" cy="135.7" r="1.6" fill="#bcc2d8"/><circle cx="418.8" cy="137.1" r="1.6" fill="#bcc2d8"/><circle cx="444.5" cy="103.1" r="1.6" fill="#bcc2d8"/><circle cx="406.0" cy="135.0" r="1.6" fill="#bcc2d8"/><circle cx="372.7" cy="127.1" r="1.6" fill="#bcc2d8"/><circle cx="422.8" cy="130.2" r="1.6" fill="#bcc2d8"/><circle cx="375.8" cy="133.5" r="1.6" fill="#bcc2d8"/><circle cx="411.6" cy="72.6" r="1.6" fill="#bcc2d8"/><circle cx="373.7" cy="130.7" r="1.6" fill="#bcc2d8"/><circle cx="373.3" cy="112.8" r="1.6" fill="#bcc2d8"/><circle cx="423.8" cy="129.5" r="1.6" fill="#bcc2d8"/><circle cx="402.0" cy="72.8" r="1.6" fill="#bcc2d8"/><circle cx="448.9" cy="90.4" r="1.6" fill="#bcc2d8"/><circle cx="417.8" cy="140.0" r="1.6" fill="#bcc2d8"/><circle cx="373.1" cy="120.3" r="1.6" fill="#bcc2d8"/><circle cx="373.2" cy="118.1" r="1.6" fill="#bcc2d8"/><circle cx="417.7" cy="140.0" r="1.6" fill="#bcc2d8"/><circle cx="373.7" cy="129.3" r="1.6" fill="#bcc2d8"/><circle cx="431.1" cy="125.0" r="1.6" fill="#bcc2d8"/><circle cx="409.3" cy="142.5" r="1.6" fill="#bcc1d8"/><circle cx="448.6" cy="91.0" r="1.6" fill="#bcc1d8"/><circle cx="389.1" cy="136.2" r="1.6" fill="#bcc1d8"/><circle cx="373.5" cy="109.5" r="1.6" fill="#bcc1d8"/><circle cx="416.0" cy="72.4" r="1.6" fill="#bcc1d8"/><circle cx="399.0" cy="73.4" r="1.6" fill="#bcc1d8"/><circle cx="442.7" cy="105.9" r="1.6" fill="#bcc1d8"/><circle cx="402.0" cy="133.1" r="1.6" fill="#bcc1d8"/><circle cx="373.5" cy="117.0" r="1.6" fill="#bcc1d8"/><circle cx="449.0" cy="77.1" r="1.6" fill="#bcc1d8"/><circle cx="374.9" cy="131.3" r="1.6" fill="#bcc1d8"/><circle cx="373.7" cy="115.6" r="1.6" fill="#bcc1d8"/><circle cx="378.7" cy="89.5" r="1.6" fill="#bcc1d8"/><circle cx="443.9" cy="73.5" r="1.6" fill="#bcc1d8"/><circle cx="408.1" cy="137.2" r="1.6" fill="#bcc1d8"/><circle cx="375.0" cy="131.2" r="1.6" fill="#bcc1d8"/><circle cx="376.9" cy="132.9" r="1.6" fill="#bcc1d8"/><circle cx="403.3" cy="132.9" r="1.6" fill="#bcc1d8"/><circle cx="450.4" cy="86.2" r="1.6" fill="#bcc1d8"/><circle cx="413.4" cy="143.6" r="1.6" fill="#bcc1d8"/><circle cx="410.2" cy="142.7" r="1.6" fill="#bcc1d8"/><circle cx="447.1" cy="75.7" r="1.6" fill="#bcc1d8"/><circle cx="408.6" cy="136.4" r="1.6" fill="#bcc1d8"/><circle cx="377.1" cy="132.5" r="1.6" fill="#bcc1d8"/><circle cx="416.5" cy="141.4" r="1.6" fill="#bcc1d8"/><circle cx="385.3" cy="135.3" r="1.6" fill="#bcc1d8"/><circle cx="374.0" cy="121.0" r="1.6" fill="#bcc1d8"/><circle cx="422.0" cy="71.6" r="1.6" fill="#bcc1d8"/><circle cx="375.2" cy="130.3" r="1.6" fill="#bcc1d8"/><circle cx="445.0" cy="74.3" r="1.6" fill="#bcc1d8"/><circle cx="433.5" cy="121.9" r="1.6" fill="#bcc1d8"/><circle cx="404.8" cy="132.6" r="1.6" fill="#bcc1d8"/><circle cx="374.5" cy="126.1" r="1.6" fill="#bcc1d8"/><circle cx="401.3" cy="73.1" r="1.6" fill="#bcc1d8"/><circle cx="428.9" cy="126.1" r="1.6" fill="#bcc1d8"/><circle cx="398.6" cy="73.7" r="1.6" fill="#bcc1d8"/><circle cx="440.1" cy="109.3" r="1.6" fill="#bcc1d8"/><circle cx="420.4" cy="130.4" r="1.6" fill="#bcc1d8"/><circle cx="373.8" cy="107.6" r="1.6" fill="#bcc1d8"/><circle cx="448.1" cy="91.3" r="1.6" fill="#bcc1d8"/><circle cx="374.3" cy="115.6" r="1.6" fill="#bcc1d8"/><circle cx="422.6" cy="129.1" r="1.6" fill="#bcc1d8"/><circle cx="450.2" cy="85.8" r="1.6" fill="#bcc1d8"/><circle cx="409.3" cy="134.7" r="1.6" fill="#bbc1d8"/><circle cx="412.1" cy="142.9" r="1.6" fill="#bbc1d8"/><circle cx="416.8" cy="135.7" r="1.6" fill="#bbc1d8"/><circle cx="441.3" cy="107.4" r="1.6" fill="#bbc1d8"/><circle cx="379.0" cy="132.4" r="1.6" fill="#bbc1d8"/><circle cx="414.6" cy="142.4" r="1.6" fill="#bbc1d8"/><circle cx="424.1" cy="71.6" r="1.6" fill="#bbc1d8"/><circle cx="404.3" cy="132.0" r="1.6" fill="#bbc1d8"/><circle cx="416.8" cy="132.4" r="1.6" fill="#bbc1d8"/><circle cx="444.3" cy="74.3" r="1.6" fill="#bbc1d8"/><circle cx="444.9" cy="74.6" r="1.6" fill="#bbc1d8"/><circle cx="410.8" cy="73.1" r="1.6" fill="#bbc1d8"/><circle cx="410.2" cy="140.4" r="1.6" fill="#bbc1d8"/><circle cx="376.6" cy="129.1" r="1.6" fill="#bbc1d8"/><circle cx="427.1" cy="71.4" r="1.6" fill="#bbc1d8"/><circle cx="435.0" cy="119.0" r="1.6" fill="#bbc1d7"/><circle cx="412.0" cy="142.2" r="1.6" fill="#bbc1d7"/><circle cx="378.6" cy="131.3" r="1.6" fill="#bbc1d7"/><circle cx="450.5" cy="82.2" r="1.6" fill="#bbc1d7"/><circle cx="393.1" cy="134.7" r="1.6" fill="#bbc1d7"/><circle cx="418.3" cy="130.7" r="1.6" fill="#bbc1d7"/><circle cx="376.0" cy="122.8" r="1.6" fill="#bbc1d7"/><circle cx="408.2" cy="132.3" r="1.6" fill="#bbc1d7"/><circle cx="446.5" cy="76.0" r="1.6" fill="#bbc1d7"/><circle cx="374.7" cy="112.4" r="1.6" fill="#bbc1d7"/><circle cx="415.1" cy="141.2" r="1.6" fill="#bbc1d7"/><circle cx="430.1" cy="71.4" r="1.6" fill="#bbc1d7"/><circle cx="437.3" cy="113.7" r="1.6" fill="#bbc1d7"/><circle cx="410.7" cy="138.6" r="1.6" fill="#bbc1d7"/><circle cx="414.5" cy="133.6" r="1.6" fill="#bbc1d7"/><circle cx="449.6" cy="85.8" r="1.6" fill="#bbc1d7"/><circle cx="413.6" cy="134.4" r="1.6" fill="#bbc1d7"/><circle cx="411.3" cy="137.1" r="1.6" fill="#bbc1d7"/><circle cx="440.7" cy="107.8" r="1.6" fill="#bbc1d7"/><circle cx="411.0" cy="140.3" r="1.6" fill="#bbc1d7"/><circle cx="416.8" cy="131.2" r="1.6" fill="#bbc1d7"/><circle cx="413.7" cy="133.1" r="1.6" fill="#bbc0d7"/><circle cx="403.4" cy="131.5" r="1.6" fill="#bbc0d7"/><circle cx="376.5" cy="93.3" r="1.6" fill="#bbc0d7"/><circle cx="375.3" cy="114.9" r="1.6" fill="#bbc0d7"/><circle cx="377.0" cy="124.9" r="1.6" fill="#bbc0d7"/><circle cx="375.7" cy="117.3" r="1.6" fill="#bbc0d7"/><circle cx="376.0" cy="119.2" r="1.6" fill="#bbc0d7"/><circle cx="412.4" cy="137.1" r="1.6" fill="#bbc0d7"/><circle cx="405.0" cy="131.3" r="1.6" fill="#bbc0d7"/><circle cx="449.8" cy="80.8" r="1.6" fill="#bbc0d7"/><circle cx="376.1" cy="94.0" r="1.6" fill="#bbc0d7"/><circle cx="414.2" cy="137.9" r="1.6" fill="#bbc0d7"/><circle cx="441.5" cy="106.2" r="1.6" fill="#bbc0d7"/><circle cx="447.8" cy="77.6" r="1.6" fill="#bbc0d7"/><circle cx="414.3" cy="138.2" r="1.6" fill="#bbc0d7"/><circle cx="413.2" cy="140.5" r="1.6" fill="#bbc0d7"/><circle cx="412.7" cy="138.3" r="1.6" fill="#bbc0d7"/><circle cx="379.0" cy="129.6" r="1.6" fill="#bbc0d7"/><circle cx="397.9" cy="132.3" r="1.6" fill="#bbc0d7"/><circle cx="448.8" cy="87.1" r="1.6" fill="#bbc0d7"/><circle cx="413.3" cy="138.8" r="1.6" fill="#bbc0d7"/><circle cx="431.7" cy="122.9" r="1.6" fill="#bbc0d7"/><circle cx="378.1" cy="125.9" r="1.6" fill="#bbc0d7"/><circle cx="448.6" cy="78.9" r="1.6" fill="#bbc0d7"/><circle cx="376.3" cy="116.9" r="1.6" fill="#bac0d7"/><circle cx="424.0" cy="127.3" r="1.6" fill="#bac0d7"/><circle cx="379.1" cy="128.4" r="1.6" fill="#bac0d7"/><circle cx="390.9" cy="134.2" r="1.6" fill="#bac0d7"/><circle cx="448.5" cy="79.0" r="1.6" fill="#bac0d7"/><circle cx="392.4" cy="133.9" r="1.6" fill="#bac0d7"/><circle cx="388.2" cy="133.9" r="1.6" fill="#bac0d7"/><circle cx="380.0" cy="128.9" r="1.6" fill="#bac0d7"/><circle cx="378.5" cy="123.6" r="1.6" fill="#bac0d7"/><circle cx="385.2" cy="133.2" r="1.6" fill="#bac0d7"/><circle cx="406.0" cy="130.6" r="1.6" fill="#bac0d7"/><circle cx="405.8" cy="130.5" r="1.6" fill="#bac0d7"/><circle cx="423.4" cy="127.1" r="1.6" fill="#bac0d7"/><circle cx="379.9" cy="89.3" r="1.6" fill="#bac0d7"/><circle cx="378.5" cy="121.4" r="1.6" fill="#bac0d7"/><circle cx="439.6" cy="108.3" r="1.6" fill="#bac0d7"/><circle cx="409.1" cy="130.4" r="1.6" fill="#bac0d7"/><circle cx="410.1" cy="130.4" r="1.6" fill="#bac0d7"/><circle cx="413.2" cy="130.2" r="1.6" fill="#bac0d7"/><circle cx="418.5" cy="128.5" r="1.6" fill="#bac0d7"/><circle cx="378.2" cy="119.6" r="1.6" fill="#bac0d7"/><circle cx="391.0" cy="133.5" r="1.6" fill="#bac0d7"/><circle cx="428.3" cy="124.7" r="1.6" fill="#babfd7"/><circle cx="379.6" cy="124.4" r="1.6" fill="#babfd7"/><circle cx="376.4" cy="113.6" r="1.6" fill="#babfd7"/><circle cx="380.7" cy="127.6" r="1.6" fill="#babfd7"/><circle cx="445.0" cy="97.0" r="1.6" fill="#babfd7"/><circle cx="441.9" cy="104.2" r="1.6" fill="#babfd7"/><circle cx="420.0" cy="127.7" r="1.6" fill="#babfd7"/><circle cx="387.8" cy="133.1" r="1.6" fill="#babfd7"/><circle cx="447.9" cy="79.7" r="1.6" fill="#babfd6"/><circle cx="384.7" cy="83.8" r="1.6" fill="#babfd6"/><circle cx="439.0" cy="108.7" r="1.6" fill="#babfd6"/><circle cx="374.9" cy="102.0" r="1.6" fill="#b9bfd6"/><circle cx="442.7" cy="102.6" r="1.6" fill="#b9bfd6"/><circle cx="434.5" cy="72.3" r="1.6" fill="#b9bfd6"/><circle cx="445.6" cy="94.4" r="1.6" fill="#b9bfd6"/><circle cx="392.3" cy="132.9" r="1.6" fill="#b9bfd6"/><circle cx="439.8" cy="107.3" r="1.6" fill="#b9bfd6"/><circle cx="415.1" cy="129.0" r="1.6" fill="#b9bfd6"/><circle cx="403.2" cy="129.8" r="1.6" fill="#b9bfd6"/><circle cx="389.3" cy="79.5" r="1.6" fill="#b9bfd6"/><circle cx="384.2" cy="131.1" r="1.6" fill="#b9bfd6"/><circle cx="408.8" cy="129.6" r="1.6" fill="#b9bfd6"/><circle cx="376.4" cy="111.4" r="1.6" fill="#b9bfd6"/><circle cx="401.7" cy="73.8" r="1.6" fill="#b9bfd6"/><circle cx="380.7" cy="124.6" r="1.6" fill="#b9bfd6"/><circle cx="383.1" cy="129.7" r="1.6" fill="#b9bfd6"/><circle cx="443.8" cy="99.3" r="1.6" fill="#b9bfd6"/><circle cx="377.6" cy="93.0" r="1.6" fill="#b9bfd6"/><circle cx="421.9" cy="126.5" r="1.6" fill="#b9bfd6"/><circle cx="375.2" cy="103.2" r="1.6" fill="#b9bfd6"/><circle cx="447.9" cy="83.9" r="1.6" fill="#b9bfd6"/><circle cx="375.5" cy="105.9" r="1.6" fill="#b9bfd6"/><circle cx="437.3" cy="110.8" r="1.6" fill="#b9bfd6"/><circle cx="375.7" cy="106.9" r="1.6" fill="#b9bfd6"/><circle cx="443.8" cy="98.9" r="1.6" fill="#b9bfd6"/><circle cx="376.4" cy="110.2" r="1.6" fill="#b9bfd6"/><circle cx="412.3" cy="128.9" r="1.6" fill="#b9bfd6"/><circle cx="377.0" cy="94.3" r="1.6" fill="#b9bfd6"/><circle cx="435.2" cy="114.9" r="1.6" fill="#b9bfd6"/><circle cx="425.4" cy="125.0" r="1.6" fill="#b9bfd6"/><circle cx="390.7" cy="132.3" r="1.6" fill="#b9bed6"/><circle cx="437.6" cy="109.9" r="1.6" fill="#b9bed6"/><circle cx="442.6" cy="101.4" r="1.6" fill="#b9bed6"/><circle cx="380.8" cy="89.0" r="1.6" fill="#b8bed6"/><circle cx="385.8" cy="130.9" r="1.6" fill="#b8bed6"/><circle cx="397.5" cy="130.3" r="1.6" fill="#b8bed6"/><circle cx="443.8" cy="98.0" r="1.6" fill="#b8bed6"/><circle cx="379.7" cy="118.3" r="1.6" fill="#b8bed6"/><circle cx="447.2" cy="83.3" r="1.6" fill="#b8bed6"/><circle cx="403.4" cy="128.9" r="1.6" fill="#b8bed6"/><circle cx="409.8" cy="128.7" r="1.6" fill="#b8bed6"/><circle cx="376.3" cy="96.9" r="1.6" fill="#b8bed6"/><circle cx="433.5" cy="72.7" r="1.6" fill="#b8bed6"/><circle cx="412.3" cy="128.3" r="1.6" fill="#b8bed6"/><circle cx="388.8" cy="131.7" r="1.6" fill="#b8bed6"/><circle cx="447.1" cy="83.7" r="1.6" fill="#b8bed6"/><circle cx="395.3" cy="76.0" r="1.6" fill="#b8bed6"/><circle cx="447.0" cy="82.5" r="1.6" fill="#b8bed6"/><circle cx="378.2" cy="114.0" r="1.6" fill="#b8bed6"/><circle cx="393.1" cy="77.2" r="1.6" fill="#b8bed6"/><circle cx="444.7" cy="77.8" r="1.6" fill="#b8bed6"/><circle cx="396.0" cy="75.7" r="1.6" fill="#b8bed6"/><circle cx="378.1" cy="93.0" r="1.6" fill="#b8bed5"/><circle cx="430.8" cy="72.6" r="1.6" fill="#b8bed5"/><circle cx="446.8" cy="83.9" r="1.6" fill="#b8bed5"/><circle cx="389.5" cy="131.4" r="1.6" fill="#b8bed5"/><circle cx="441.8" cy="75.5" r="1.6" fill="#b8bed5"/><circle cx="433.9" cy="116.6" r="1.6" fill="#b8bed5"/><circle cx="435.5" cy="112.9" r="1.6" fill="#b8bed5"/><circle cx="386.4" cy="130.2" r="1.6" fill="#b8bed5"/><circle cx="435.2" cy="113.6" r="1.6" fill="#b8bed5"/><circle cx="376.6" cy="96.6" r="1.6" fill="#b8bed5"/><circle cx="396.4" cy="130.0" r="1.6" fill="#b8bed5"/><circle cx="381.3" cy="120.0" r="1.6" fill="#b8bed5"/><circle cx="402.4" cy="128.5" r="1.6" fill="#b8bed5"/><circle cx="428.2" cy="122.7" r="1.6" fill="#b7bdd5"/><circle cx="391.6" cy="131.0" r="1.6" fill="#b7bdd5"/><circle cx="378.8" cy="92.3" r="1.6" fill="#b7bdd5"/><circle cx="443.4" cy="77.1" r="1.6" fill="#b7bdd5"/><circle cx="443.5" cy="97.4" r="1.6" fill="#b7bdd5"/><circle cx="405.2" cy="74.2" r="1.6" fill="#b7bdd5"/><circle cx="446.2" cy="83.6" r="1.6" fill="#b7bdd5"/><circle cx="445.2" cy="79.6" r="1.6" fill="#b7bdd5"/><circle cx="377.5" cy="109.9" r="1.6" fill="#b7bdd5"/><circle cx="385.7" cy="128.8" r="1.6" fill="#b7bdd5"/><circle cx="388.3" cy="130.4" r="1.6" fill="#b7bdd5"/><circle cx="388.0" cy="81.3" r="1.6" fill="#b7bdd5"/><circle cx="441.0" cy="102.8" r="1.6" fill="#b7bdd5"/><circle cx="438.2" cy="74.2" r="1.6" fill="#b7bdd5"/><circle cx="387.7" cy="130.1" r="1.6" fill="#b7bdd5"/><circle cx="384.9" cy="127.1" r="1.6" fill="#b7bdd5"/><circle cx="404.8" cy="127.8" r="1.6" fill="#b7bdd5"/><circle cx="376.5" cy="104.4" r="1.6" fill="#b7bdd5"/><circle cx="379.1" cy="92.2" r="1.6" fill="#b7bdd5"/><circle cx="379.5" cy="114.5" r="1.6" fill="#b7bdd5"/><circle cx="437.2" cy="108.5" r="1.6" fill="#b7bdd5"/><circle cx="434.5" cy="113.7" r="1.6" fill="#b7bdd5"/><circle cx="411.1" cy="127.3" r="1.6" fill="#b7bdd5"/><circle cx="396.3" cy="129.1" r="1.6" fill="#b7bdd5"/><circle cx="432.3" cy="117.9" r="1.6" fill="#b7bdd5"/><circle cx="405.9" cy="74.5" r="1.6" fill="#b7bdd5"/><circle cx="433.2" cy="73.4" r="1.6" fill="#b7bdd5"/><circle cx="383.4" cy="122.8" r="1.6" fill="#b6bdd5"/><circle cx="376.8" cy="104.5" r="1.6" fill="#b6bdd5"/><circle cx="403.9" cy="74.5" r="1.6" fill="#b6bdd5"/><circle cx="395.4" cy="129.2" r="1.6" fill="#b6bdd5"/><circle cx="389.8" cy="80.0" r="1.6" fill="#b6bcd4"/><circle cx="438.8" cy="74.9" r="1.6" fill="#b6bcd4"/><circle cx="441.8" cy="100.1" r="1.6" fill="#b6bcd4"/><circle cx="429.2" cy="121.0" r="1.6" fill="#b6bcd4"/><circle cx="383.0" cy="121.2" r="1.6" fill="#b6bcd4"/><circle cx="431.5" cy="118.6" r="1.6" fill="#b6bcd4"/><circle cx="431.7" cy="118.2" r="1.6" fill="#b6bcd4"/><circle cx="429.3" cy="73.3" r="1.6" fill="#b6bcd4"/><circle cx="386.4" cy="127.5" r="1.6" fill="#b6bcd4"/><circle cx="403.9" cy="74.6" r="1.6" fill="#b6bcd4"/><circle cx="376.8" cy="100.4" r="1.6" fill="#b6bcd4"/><circle cx="442.4" cy="98.0" r="1.6" fill="#b6bcd4"/><circle cx="439.3" cy="104.2" r="1.6" fill="#b6bcd4"/><circle cx="444.4" cy="89.9" r="1.6" fill="#b6bcd4"/><circle cx="423.8" cy="123.3" r="1.6" fill="#b6bcd4"/><circle cx="444.4" cy="81.3" r="1.6" fill="#b6bcd4"/><circle cx="399.5" cy="127.6" r="1.6" fill="#b6bcd4"/><circle cx="377.1" cy="102.6" r="1.6" fill="#b6bcd4"/><circle cx="431.4" cy="117.9" r="1.6" fill="#b6bcd4"/><circle cx="398.3" cy="127.7" r="1.6" fill="#b5bcd4"/><circle cx="444.5" cy="87.1" r="1.6" fill="#b5bcd4"/><circle cx="405.1" cy="74.8" r="1.6" fill="#b5bcd4"/><circle cx="429.7" cy="119.8" r="1.6" fill="#b5bcd4"/><circle cx="443.2" cy="94.2" r="1.6" fill="#b5bcd4"/><circle cx="384.6" cy="85.7" r="1.6" fill="#b5bcd4"/><circle cx="403.2" cy="74.8" r="1.6" fill="#b5bcd4"/><circle cx="402.1" cy="74.9" r="1.6" fill="#b5bcd4"/><circle cx="386.0" cy="125.6" r="1.6" fill="#b5bcd4"/><circle cx="418.6" cy="74.5" r="1.6" fill="#b5bcd4"/><circle cx="399.3" cy="127.4" r="1.6" fill="#b5bcd4"/><circle cx="407.4" cy="75.0" r="1.6" fill="#b5bcd4"/><circle cx="436.4" cy="74.7" r="1.6" fill="#b5bcd4"/><circle cx="437.4" cy="106.4" r="1.6" fill="#b5bbd4"/><circle cx="444.3" cy="87.5" r="1.6" fill="#b5bbd4"/><circle cx="430.7" cy="118.5" r="1.6" fill="#b5bbd4"/><circle cx="411.1" cy="75.3" r="1.6" fill="#b5bbd4"/><circle cx="442.6" cy="79.0" r="1.6" fill="#b5bbd4"/><circle cx="444.0" cy="82.0" r="1.6" fill="#b5bbd4"/><circle cx="434.5" cy="111.3" r="1.6" fill="#b5bbd4"/><circle cx="394.7" cy="128.3" r="1.6" fill="#b5bbd4"/><circle cx="444.1" cy="88.3" r="1.6" fill="#b5bbd4"/><circle cx="418.3" cy="124.6" r="1.6" fill="#b5bbd4"/><circle cx="443.9" cy="89.0" r="1.6" fill="#b5bbd4"/><circle cx="426.9" cy="121.3" r="1.6" fill="#b5bbd4"/><circle cx="439.3" cy="102.8" r="1.6" fill="#b5bbd4"/><circle cx="378.0" cy="105.9" r="1.6" fill="#b5bbd3"/><circle cx="422.0" cy="74.2" r="1.6" fill="#b5bbd3"/><circle cx="430.6" cy="118.2" r="1.6" fill="#b5bbd3"/><circle cx="437.2" cy="75.2" r="1.6" fill="#b5bbd3"/><circle cx="392.1" cy="128.3" r="1.6" fill="#b5bbd3"/><circle cx="430.2" cy="118.5" r="1.6" fill="#b5bbd3"/><circle cx="389.6" cy="127.7" r="1.6" fill="#b4bbd3"/><circle cx="378.4" cy="95.9" r="1.6" fill="#b4bbd3"/><circle cx="384.8" cy="121.5" r="1.6" fill="#b4bbd3"/><circle cx="418.0" cy="74.9" r="1.6" fill="#b4bbd3"/><circle cx="443.6" cy="89.5" r="1.6" fill="#b4bbd3"/><circle cx="441.6" cy="78.7" r="1.6" fill="#b4bbd3"/><circle cx="401.6" cy="75.3" r="1.6" fill="#b4bbd3"/><circle cx="389.2" cy="127.3" r="1.6" fill="#b4bbd3"/><circle cx="387.6" cy="126.0" r="1.6" fill="#b4bbd3"/><circle cx="388.0" cy="126.3" r="1.6" fill="#b4bbd3"/><circle cx="377.8" cy="102.7" r="1.6" fill="#b4bbd3"/><circle cx="383.8" cy="118.8" r="1.6" fill="#b4bbd3"/><circle cx="436.2" cy="75.2" r="1.6" fill="#b4bad3"/><circle cx="390.5" cy="127.5" r="1.6" fill="#b4bad3"/><circle cx="391.6" cy="127.6" r="1.6" fill="#b4bad3"/><circle cx="389.8" cy="127.1" r="1.6" fill="#b4bad3"/><circle cx="391.5" cy="127.5" r="1.6" fill="#b4bad3"/><circle cx="378.1" cy="103.7" r="1.6" fill="#b4bad3"/><circle cx="406.0" cy="126.0" r="1.6" fill="#b4bad3"/><circle cx="439.3" cy="101.6" r="1.6" fill="#b4bad3"/><circle cx="425.7" cy="121.2" r="1.6" fill="#b4bad3"/><circle cx="433.0" cy="112.9" r="1.6" fill="#b4bad3"/><circle cx="436.6" cy="106.0" r="1.6" fill="#b4bad3"/><circle cx="430.0" cy="117.8" r="1.6" fill="#b4bad3"/><circle cx="378.0" cy="101.9" r="1.6" fill="#b4bad3"/><circle cx="389.4" cy="126.6" r="1.6" fill="#b3bad3"/><circle cx="441.4" cy="96.9" r="1.6" fill="#b3bad3"/><circle cx="441.1" cy="78.9" r="1.6" fill="#b3bad3"/><circle cx="435.3" cy="107.9" r="1.6" fill="#b3bad3"/><circle cx="390.5" cy="126.8" r="1.6" fill="#b3bad3"/><circle cx="441.1" cy="79.2" r="1.6" fill="#b3bad3"/><circle cx="420.1" cy="123.1" r="1.6" fill="#b3bad3"/><circle cx="380.4" cy="110.6" r="1.6" fill="#b3bad3"/><circle cx="415.3" cy="124.5" r="1.6" fill="#b3bad3"/><circle cx="441.2" cy="79.4" r="1.6" fill="#b3bad2"/><circle cx="433.2" cy="111.7" r="1.6" fill="#b3bad2"/><circle cx="418.6" cy="123.5" r="1.6" fill="#b3bad2"/><circle cx="424.2" cy="121.5" r="1.6" fill="#b3bad2"/><circle cx="379.7" cy="94.4" r="1.6" fill="#b3bad2"/><circle cx="416.0" cy="124.2" r="1.6" fill="#b3bad2"/><circle cx="418.6" cy="75.3" r="1.6" fill="#b3b9d2"/><circle cx="388.6" cy="125.1" r="1.6" fill="#b3b9d2"/><circle cx="381.1" cy="111.5" r="1.6" fill="#b3b9d2"/><circle cx="378.8" cy="104.7" r="1.6" fill="#b3b9d2"/><circle cx="413.0" cy="76.1" r="1.6" fill="#b3b9d2"/><circle cx="432.7" cy="74.9" r="1.6" fill="#b3b9d2"/><circle cx="419.6" cy="75.3" r="1.6" fill="#b2b9d2"/><circle cx="420.2" cy="122.7" r="1.6" fill="#b2b9d2"/><circle cx="423.3" cy="74.7" r="1.6" fill="#b2b9d2"/><circle cx="434.5" cy="75.4" r="1.6" fill="#b2b9d2"/><circle cx="428.7" cy="74.5" r="1.6" fill="#b2b9d2"/><circle cx="381.8" cy="112.6" r="1.6" fill="#b2b9d2"/><circle cx="379.0" cy="105.0" r="1.6" fill="#b2b9d2"/><circle cx="416.3" cy="123.9" r="1.6" fill="#b2b9d2"/><circle cx="389.8" cy="125.5" r="1.6" fill="#b2b9d2"/><circle cx="439.0" cy="77.8" r="1.6" fill="#b2b9d2"/><circle cx="424.4" cy="120.9" r="1.6" fill="#b2b9d2"/><circle cx="381.6" cy="91.5" r="1.6" fill="#b2b9d2"/><circle cx="430.3" cy="116.1" r="1.6" fill="#b2b9d2"/><circle cx="428.2" cy="74.6" r="1.6" fill="#b2b9d2"/><circle cx="384.7" cy="86.9" r="1.6" fill="#b2b9d2"/><circle cx="440.0" cy="79.0" r="1.6" fill="#b2b9d2"/><circle cx="384.9" cy="86.7" r="1.6" fill="#b2b9d2"/><circle cx="395.5" cy="126.0" r="1.6" fill="#b2b9d2"/><circle cx="388.4" cy="123.9" r="1.6" fill="#b2b9d2"/><circle cx="441.5" cy="93.8" r="1.6" fill="#b2b9d2"/><circle cx="414.4" cy="124.1" r="1.6" fill="#b2b8d2"/><circle cx="381.1" cy="92.6" r="1.6" fill="#b2b8d2"/><circle cx="431.7" cy="75.1" r="1.6" fill="#b1b8d1"/><circle cx="429.5" cy="116.5" r="1.6" fill="#b1b8d1"/><circle cx="431.8" cy="112.6" r="1.6" fill="#b1b8d1"/><circle cx="433.3" cy="109.5" r="1.6" fill="#b1b8d1"/><circle cx="387.5" cy="83.8" r="1.6" fill="#b1b8d1"/><circle cx="379.3" cy="103.7" r="1.6" fill="#b1b8d1"/><circle cx="380.6" cy="94.1" r="1.6" fill="#b1b8d1"/><circle cx="380.5" cy="94.2" r="1.6" fill="#b1b8d1"/><circle cx="381.6" cy="110.8" r="1.6" fill="#b1b8d1"/><circle cx="380.1" cy="106.9" r="1.6" fill="#b1b8d1"/><circle cx="423.6" cy="120.7" r="1.6" fill="#b1b8d1"/><circle cx="434.0" cy="75.8" r="1.6" fill="#b1b8d1"/><circle cx="436.6" cy="77.0" r="1.6" fill="#b1b8d1"/><circle cx="441.2" cy="82.7" r="1.6" fill="#b1b8d1"/><circle cx="441.8" cy="86.6" r="1.6" fill="#b1b8d1"/><circle cx="379.6" cy="97.5" r="1.6" fill="#b1b8d1"/><circle cx="385.2" cy="117.0" r="1.6" fill="#b1b8d1"/><circle cx="380.5" cy="94.9" r="1.6" fill="#b1b8d1"/><circle cx="383.2" cy="113.2" r="1.6" fill="#b1b7d1"/><circle cx="390.7" cy="124.3" r="1.6" fill="#b1b7d1"/><circle cx="397.0" cy="125.0" r="1.6" fill="#b1b7d1"/><circle cx="379.5" cy="102.8" r="1.6" fill="#b0b7d1"/><circle cx="388.8" cy="122.7" r="1.6" fill="#b0b7d1"/><circle cx="427.8" cy="117.6" r="1.6" fill="#b0b7d1"/><circle cx="380.0" cy="96.7" r="1.6" fill="#b0b7d1"/><circle cx="380.1" cy="96.2" r="1.6" fill="#b0b7d1"/><circle cx="386.5" cy="119.0" r="1.6" fill="#b0b7d1"/><circle cx="379.6" cy="99.0" r="1.6" fill="#b0b7d1"/><circle cx="427.8" cy="117.5" r="1.6" fill="#b0b7d1"/><circle cx="386.5" cy="119.1" r="1.6" fill="#b0b7d1"/><circle cx="393.0" cy="124.8" r="1.6" fill="#b0b7d1"/><circle cx="439.8" cy="96.8" r="1.6" fill="#b0b7d1"/><circle cx="392.3" cy="79.9" r="1.6" fill="#b0b7d1"/><circle cx="391.1" cy="124.0" r="1.6" fill="#b0b7d1"/><circle cx="437.8" cy="100.4" r="1.6" fill="#b0b7d1"/><circle cx="437.4" cy="78.1" r="1.6" fill="#b0b7d0"/><circle cx="400.6" cy="76.5" r="1.6" fill="#b0b7d0"/><circle cx="430.5" cy="113.6" r="1.6" fill="#b0b7d0"/><circle cx="428.9" cy="75.3" r="1.6" fill="#b0b7d0"/><circle cx="404.5" cy="124.3" r="1.6" fill="#b0b7d0"/><circle cx="387.2" cy="84.8" r="1.6" fill="#b0b7d0"/><circle cx="405.1" cy="124.3" r="1.6" fill="#b0b7d0"/><circle cx="395.9" cy="78.0" r="1.6" fill="#afb7d0"/><circle cx="392.4" cy="124.1" r="1.6" fill="#afb6d0"/><circle cx="422.4" cy="75.8" r="1.6" fill="#afb6d0"/><circle cx="425.1" cy="118.8" r="1.6" fill="#afb6d0"/><circle cx="438.2" cy="79.4" r="1.6" fill="#afb6d0"/><circle cx="384.2" cy="113.6" r="1.6" fill="#afb6d0"/><circle cx="428.5" cy="115.9" r="1.6" fill="#afb6d0"/><circle cx="428.7" cy="115.6" r="1.6" fill="#afb6d0"/><circle cx="389.0" cy="82.9" r="1.6" fill="#afb6d0"/><circle cx="388.0" cy="120.0" r="1.6" fill="#afb6d0"/><circle cx="380.5" cy="104.3" r="1.6" fill="#afb6d0"/><circle cx="439.5" cy="81.6" r="1.6" fill="#afb6d0"/><circle cx="439.3" cy="96.1" r="1.6" fill="#afb6d0"/><circle cx="430.3" cy="75.9" r="1.6" fill="#afb6d0"/><circle cx="384.4" cy="88.9" r="1.6" fill="#afb6d0"/><circle cx="399.3" cy="123.9" r="1.6" fill="#afb6d0"/><circle cx="389.3" cy="121.3" r="1.6" fill="#afb6d0"/><circle cx="433.9" cy="105.6" r="1.6" fill="#aeb6d0"/><circle cx="405.1" cy="123.9" r="1.6" fill="#aeb6d0"/><circle cx="437.7" cy="79.7" r="1.6" fill="#aeb5cf"/><circle cx="412.5" cy="123.1" r="1.6" fill="#aeb5cf"/><circle cx="384.0" cy="90.1" r="1.6" fill="#aeb5cf"/><circle cx="399.0" cy="77.3" r="1.6" fill="#aeb5cf"/><circle cx="391.0" cy="122.0" r="1.6" fill="#aeb5cf"/><circle cx="414.2" cy="77.6" r="1.6" fill="#aeb5cf"/><circle cx="395.8" cy="123.3" r="1.6" fill="#adb5cf"/><circle cx="412.8" cy="77.6" r="1.6" fill="#adb5cf"/><circle cx="381.4" cy="95.7" r="1.6" fill="#adb5cf"/><circle cx="421.8" cy="119.8" r="1.6" fill="#adb5cf"/><circle cx="440.2" cy="89.1" r="1.6" fill="#adb5cf"/><circle cx="440.1" cy="90.3" r="1.6" fill="#adb5cf"/><circle cx="389.4" cy="83.1" r="1.6" fill="#adb4cf"/><circle cx="389.3" cy="120.0" r="1.6" fill="#adb4cf"/><circle cx="415.4" cy="122.1" r="1.6" fill="#adb4cf"/><circle cx="440.1" cy="89.9" r="1.6" fill="#adb4cf"/><circle cx="440.1" cy="89.3" r="1.6" fill="#adb4cf"/><circle cx="410.7" cy="77.7" r="1.6" fill="#adb4cf"/><circle cx="393.2" cy="122.5" r="1.6" fill="#adb4cf"/><circle cx="382.5" cy="107.8" r="1.6" fill="#adb4cf"/><circle cx="426.4" cy="76.2" r="1.6" fill="#adb4cf"/><circle cx="390.5" cy="82.1" r="1.6" fill="#adb4cf"/><circle cx="422.6" cy="76.5" r="1.6" fill="#adb4cf"/><circle cx="395.0" cy="122.8" r="1.6" fill="#adb4cf"/><circle cx="435.3" cy="78.4" r="1.6" fill="#adb4cf"/><circle cx="422.3" cy="76.6" r="1.6" fill="#adb4ce"/><circle cx="431.7" cy="108.4" r="1.6" fill="#adb4ce"/><circle cx="417.9" cy="77.4" r="1.6" fill="#adb4ce"/><circle cx="438.4" cy="96.1" r="1.6" fill="#adb4ce"/><circle cx="437.1" cy="80.0" r="1.6" fill="#adb4ce"/><circle cx="386.3" cy="115.0" r="1.6" fill="#acb4ce"/><circle cx="435.6" cy="78.8" r="1.6" fill="#acb4ce"/><circle cx="426.3" cy="76.3" r="1.6" fill="#acb4ce"/><circle cx="410.7" cy="122.9" r="1.6" fill="#acb4ce"/><circle cx="405.6" cy="77.2" r="1.6" fill="#acb4ce"/><circle cx="438.3" cy="96.0" r="1.6" fill="#acb4ce"/><circle cx="381.3" cy="101.5" r="1.6" fill="#acb4ce"/><circle cx="410.3" cy="122.8" r="1.6" fill="#acb4ce"/><circle cx="386.2" cy="114.4" r="1.6" fill="#acb3ce"/><circle cx="385.5" cy="113.1" r="1.6" fill="#acb3ce"/><circle cx="418.5" cy="77.5" r="1.6" fill="#acb3ce"/><circle cx="436.5" cy="99.4" r="1.6" fill="#acb3ce"/><circle cx="388.8" cy="118.4" r="1.6" fill="#acb3ce"/><circle cx="407.3" cy="77.5" r="1.6" fill="#acb3ce"/><circle cx="385.7" cy="113.5" r="1.6" fill="#acb3ce"/><circle cx="383.6" cy="109.2" r="1.6" fill="#acb3ce"/><circle cx="404.8" cy="122.9" r="1.6" fill="#acb3ce"/><circle cx="390.9" cy="120.3" r="1.6" fill="#acb3ce"/><circle cx="385.2" cy="112.3" r="1.6" fill="#acb3ce"/><circle cx="397.6" cy="122.5" r="1.6" fill="#acb3ce"/><circle cx="428.9" cy="76.7" r="1.6" fill="#abb3ce"/><circle cx="404.3" cy="122.8" r="1.6" fill="#abb3ce"/><circle cx="436.9" cy="98.0" r="1.6" fill="#abb3ce"/><circle cx="420.6" cy="119.6" r="1.6" fill="#abb3ce"/><circle cx="438.4" cy="94.4" r="1.6" fill="#abb3ce"/><circle cx="433.6" cy="103.5" r="1.6" fill="#abb3ce"/><circle cx="399.4" cy="77.8" r="1.6" fill="#abb3ce"/><circle cx="419.8" cy="77.5" r="1.6" fill="#abb3cd"/><circle cx="439.3" cy="88.7" r="1.6" fill="#abb3cd"/><circle cx="438.4" cy="83.7" r="1.6" fill="#abb3cd"/><circle cx="396.6" cy="78.7" r="1.6" fill="#abb2cd"/><circle cx="402.6" cy="77.5" r="1.6" fill="#abb2cd"/><circle cx="384.5" cy="110.0" r="1.6" fill="#abb2cd"/><circle cx="427.9" cy="113.7" r="1.6" fill="#abb2cd"/><circle cx="427.3" cy="114.5" r="1.6" fill="#aab2cd"/><circle cx="382.6" cy="95.4" r="1.6" fill="#aab2cd"/><circle cx="405.8" cy="122.5" r="1.6" fill="#aab2cd"/><circle cx="428.1" cy="113.3" r="1.6" fill="#aab2cd"/><circle cx="382.1" cy="102.0" r="1.6" fill="#aab2cd"/><circle cx="401.0" cy="77.7" r="1.6" fill="#aab2cd"/><circle cx="387.0" cy="87.1" r="1.6" fill="#aab2cd"/><circle cx="431.1" cy="107.3" r="1.6" fill="#aab1cd"/><circle cx="417.3" cy="120.4" r="1.6" fill="#aab1cd"/><circle cx="384.4" cy="91.8" r="1.6" fill="#aab1cd"/><circle cx="405.9" cy="122.3" r="1.6" fill="#aab1cd"/><circle cx="390.2" cy="118.1" r="1.6" fill="#a9b1cc"/><circle cx="387.8" cy="114.9" r="1.6" fill="#a9b1cc"/><circle cx="438.7" cy="88.7" r="1.6" fill="#a9b1cc"/><circle cx="383.3" cy="105.5" r="1.6" fill="#a9b1cc"/><circle cx="397.7" cy="121.5" r="1.6" fill="#a9b1cc"/><circle cx="436.5" cy="97.3" r="1.6" fill="#a9b1cc"/><circle cx="386.6" cy="88.0" r="1.6" fill="#a9b1cc"/><circle cx="428.9" cy="111.2" r="1.6" fill="#a9b1cc"/><circle cx="415.3" cy="78.8" r="1.6" fill="#a9b1cc"/><circle cx="432.0" cy="78.3" r="1.6" fill="#a9b1cc"/><circle cx="400.5" cy="78.1" r="1.6" fill="#a9b1cc"/><circle cx="412.8" cy="78.9" r="1.6" fill="#a9b1cc"/><circle cx="392.5" cy="119.6" r="1.6" fill="#a9b1cc"/><circle cx="427.9" cy="77.4" r="1.6" fill="#a9b1cc"/><circle cx="420.1" cy="78.1" r="1.6" fill="#a9b1cc"/><circle cx="387.7" cy="114.1" r="1.6" fill="#a9b1cc"/><circle cx="382.9" cy="103.0" r="1.6" fill="#a9b1cc"/><circle cx="402.7" cy="77.9" r="1.6" fill="#a9b1cc"/><circle cx="424.1" cy="116.6" r="1.6" fill="#a8b0cc"/><circle cx="390.0" cy="117.1" r="1.6" fill="#a8b0cc"/><circle cx="433.2" cy="102.5" r="1.6" fill="#a8b0cc"/><circle cx="384.8" cy="108.8" r="1.6" fill="#a8b0cc"/><circle cx="383.1" cy="103.5" r="1.6" fill="#a8b0cc"/><circle cx="399.7" cy="121.4" r="1.6" fill="#a8b0cc"/><circle cx="391.1" cy="82.7" r="1.6" fill="#a8b0cc"/><circle cx="384.7" cy="91.8" r="1.6" fill="#a8b0cc"/><circle cx="406.7" cy="78.3" r="1.6" fill="#a8b0cc"/><circle cx="427.8" cy="112.4" r="1.6" fill="#a8b0cc"/><circle cx="386.5" cy="111.7" r="1.6" fill="#a8b0cc"/><circle cx="394.5" cy="120.2" r="1.6" fill="#a8b0cc"/><circle cx="398.9" cy="121.1" r="1.6" fill="#a8b0cc"/><circle cx="423.9" cy="77.7" r="1.6" fill="#a8b0cb"/><circle cx="438.0" cy="91.1" r="1.6" fill="#a8b0cb"/><circle cx="415.4" cy="120.5" r="1.6" fill="#a8b0cb"/><circle cx="438.1" cy="90.1" r="1.6" fill="#a8b0cb"/><circle cx="436.8" cy="83.3" r="1.6" fill="#a8b0cb"/><circle cx="383.4" cy="103.6" r="1.6" fill="#a8b0cb"/><circle cx="395.0" cy="120.2" r="1.6" fill="#a8b0cb"/><circle cx="436.3" cy="96.5" r="1.6" fill="#a8b0cb"/><circle cx="386.5" cy="88.9" r="1.6" fill="#a7afcb"/><circle cx="391.6" cy="118.0" r="1.6" fill="#a7afcb"/><circle cx="431.1" cy="78.6" r="1.6" fill="#a7afcb"/><circle cx="394.3" cy="119.7" r="1.6" fill="#a7afcb"/><circle cx="387.0" cy="111.8" r="1.6" fill="#a7afcb"/><circle cx="414.0" cy="120.8" r="1.6" fill="#a7afcb"/><circle cx="384.6" cy="106.6" r="1.6" fill="#a7afcb"/><circle cx="401.0" cy="121.1" r="1.6" fill="#a7afcb"/><circle cx="423.6" cy="78.0" r="1.6" fill="#a7afcb"/><circle cx="385.8" cy="109.3" r="1.6" fill="#a7afcb"/><circle cx="426.4" cy="113.6" r="1.6" fill="#a7afcb"/><circle cx="387.4" cy="87.6" r="1.6" fill="#a7afcb"/><circle cx="434.6" cy="81.0" r="1.6" fill="#a7afcb"/><circle cx="386.9" cy="88.5" r="1.6" fill="#a7afcb"/><circle cx="408.5" cy="121.4" r="1.6" fill="#a6afcb"/><circle cx="437.2" cy="92.8" r="1.6" fill="#a6afcb"/><circle cx="433.6" cy="80.2" r="1.6" fill="#a6afcb"/><circle cx="410.6" cy="121.2" r="1.6" fill="#a6afcb"/><circle cx="434.4" cy="81.0" r="1.6" fill="#a6aeca"/><circle cx="383.5" cy="99.1" r="1.6" fill="#a6aeca"/><circle cx="408.5" cy="121.3" r="1.6" fill="#a6aeca"/><circle cx="401.3" cy="120.9" r="1.6" fill="#a6aeca"/><circle cx="384.7" cy="106.0" r="1.6" fill="#a6aeca"/><circle cx="429.0" cy="109.1" r="1.6" fill="#a6aeca"/><circle cx="391.3" cy="116.7" r="1.6" fill="#a6aeca"/><circle cx="431.9" cy="79.5" r="1.6" fill="#a6aeca"/><circle cx="383.8" cy="97.3" r="1.6" fill="#a6aeca"/><circle cx="418.2" cy="119.0" r="1.6" fill="#a6aeca"/><circle cx="390.3" cy="115.5" r="1.6" fill="#a6aeca"/><circle cx="430.1" cy="78.8" r="1.6" fill="#a6aeca"/><circle cx="426.5" cy="113.0" r="1.6" fill="#a6aeca"/><circle cx="399.3" cy="120.4" r="1.6" fill="#a5aeca"/><circle cx="413.0" cy="120.6" r="1.6" fill="#a5aeca"/><circle cx="415.3" cy="79.7" r="1.6" fill="#a5aeca"/><circle cx="431.0" cy="79.2" r="1.6" fill="#a5aeca"/><circle cx="391.0" cy="116.1" r="1.6" fill="#a5aeca"/><circle cx="389.5" cy="114.1" r="1.6" fill="#a5adca"/><circle cx="384.0" cy="98.0" r="1.6" fill="#a5adca"/><circle cx="425.9" cy="78.5" r="1.6" fill="#a5adca"/><circle cx="384.1" cy="100.5" r="1.6" fill="#a5adca"/><circle cx="385.0" cy="93.8" r="1.6" fill="#a5adc9"/><circle cx="384.6" cy="103.6" r="1.6" fill="#a4adc9"/><circle cx="431.1" cy="104.0" r="1.6" fill="#a4adc9"/><circle cx="432.6" cy="101.0" r="1.6" fill="#a4adc9"/><circle cx="436.8" cy="90.7" r="1.6" fill="#a4adc9"/><circle cx="417.3" cy="79.8" r="1.6" fill="#a4acc9"/><circle cx="426.8" cy="78.7" r="1.6" fill="#a4acc9"/><circle cx="424.7" cy="78.7" r="1.6" fill="#a4acc9"/><circle cx="391.1" cy="83.8" r="1.6" fill="#a4acc9"/><circle cx="420.0" cy="117.6" r="1.6" fill="#a4acc9"/><circle cx="408.4" cy="79.5" r="1.6" fill="#a4acc9"/><circle cx="394.6" cy="81.2" r="1.6" fill="#a4acc9"/><circle cx="420.7" cy="117.2" r="1.6" fill="#a4acc9"/><circle cx="394.0" cy="117.8" r="1.6" fill="#a4acc9"/><circle cx="394.0" cy="117.7" r="1.6" fill="#a4acc9"/><circle cx="410.8" cy="120.5" r="1.6" fill="#a4acc9"/><circle cx="393.4" cy="117.3" r="1.6" fill="#a4acc9"/><circle cx="436.6" cy="91.1" r="1.6" fill="#a4acc9"/><circle cx="436.7" cy="88.9" r="1.6" fill="#a4acc9"/><circle cx="436.7" cy="88.8" r="1.6" fill="#a4acc9"/><circle cx="397.3" cy="119.1" r="1.6" fill="#a3acc9"/><circle cx="428.6" cy="79.1" r="1.6" fill="#a3acc9"/><circle cx="431.3" cy="80.0" r="1.6" fill="#a3acc9"/><circle cx="392.5" cy="82.7" r="1.6" fill="#a3acc9"/><circle cx="434.5" cy="82.6" r="1.6" fill="#a3acc9"/><circle cx="435.7" cy="94.1" r="1.6" fill="#a3acc9"/><circle cx="436.4" cy="87.2" r="1.6" fill="#a3acc9"/><circle cx="384.8" cy="102.2" r="1.6" fill="#a3acc9"/><circle cx="436.3" cy="92.0" r="1.6" fill="#a3acc9"/><circle cx="410.4" cy="80.1" r="1.6" fill="#a3acc8"/><circle cx="436.5" cy="89.3" r="1.6" fill="#a3acc8"/><circle cx="384.8" cy="98.0" r="1.6" fill="#a3abc8"/><circle cx="389.4" cy="86.2" r="1.6" fill="#a3abc8"/><circle cx="436.2" cy="87.4" r="1.6" fill="#a2abc8"/><circle cx="436.3" cy="90.9" r="1.6" fill="#a2abc8"/><circle cx="391.0" cy="114.4" r="1.6" fill="#a2abc8"/><circle cx="394.0" cy="117.1" r="1.6" fill="#a2abc8"/><circle cx="386.0" cy="105.3" r="1.6" fill="#a2abc8"/><circle cx="388.8" cy="111.1" r="1.6" fill="#a2abc8"/><circle cx="398.4" cy="119.0" r="1.6" fill="#a2abc8"/><circle cx="420.9" cy="79.7" r="1.6" fill="#a2abc8"/><circle cx="428.4" cy="107.9" r="1.6" fill="#a2abc8"/><circle cx="429.2" cy="106.3" r="1.6" fill="#a2abc8"/><circle cx="431.1" cy="102.3" r="1.6" fill="#a1aac8"/><circle cx="411.4" cy="80.6" r="1.6" fill="#a1aac7"/><circle cx="435.4" cy="93.6" r="1.6" fill="#a1aac7"/><circle cx="388.0" cy="109.3" r="1.6" fill="#a1aac7"/><circle cx="392.7" cy="115.6" r="1.6" fill="#a1aac7"/><circle cx="388.5" cy="87.9" r="1.6" fill="#a1aac7"/><circle cx="410.8" cy="120.0" r="1.6" fill="#a1aac7"/><circle cx="400.8" cy="119.3" r="1.6" fill="#a1aac7"/><circle cx="385.2" cy="99.4" r="1.6" fill="#a1aac7"/><circle cx="410.6" cy="120.0" r="1.6" fill="#a1aac7"/><circle cx="419.9" cy="80.1" r="1.6" fill="#a1aac7"/><circle cx="385.4" cy="96.6" r="1.6" fill="#a1aac7"/><circle cx="421.5" cy="79.9" r="1.6" fill="#a1aac7"/><circle cx="401.0" cy="79.5" r="1.6" fill="#a1aac7"/><circle cx="416.8" cy="118.4" r="1.6" fill="#a1aac7"/><circle cx="385.4" cy="100.2" r="1.6" fill="#a1aac7"/><circle cx="385.5" cy="100.9" r="1.6" fill="#a0aac7"/><circle cx="416.1" cy="80.9" r="1.6" fill="#a0a9c7"/><circle cx="398.4" cy="118.4" r="1.6" fill="#a0a9c7"/><circle cx="426.2" cy="79.7" r="1.6" fill="#a0a9c7"/><circle cx="422.3" cy="115.1" r="1.6" fill="#a0a9c7"/><circle cx="433.3" cy="97.3" r="1.6" fill="#a0a9c7"/><circle cx="434.3" cy="84.5" r="1.6" fill="#a0a9c6"/><circle cx="433.3" cy="83.1" r="1.6" fill="#a0a9c6"/><circle cx="397.9" cy="118.0" r="1.6" fill="#a0a9c6"/><circle cx="429.9" cy="80.7" r="1.6" fill="#a0a9c6"/><circle cx="424.1" cy="113.4" r="1.6" fill="#a0a9c6"/><circle cx="389.6" cy="110.8" r="1.6" fill="#9fa9c6"/><circle cx="389.4" cy="87.1" r="1.6" fill="#9fa8c6"/><circle cx="429.1" cy="80.5" r="1.6" fill="#9fa8c6"/><circle cx="403.5" cy="119.3" r="1.6" fill="#9fa8c6"/><circle cx="415.2" cy="81.2" r="1.6" fill="#9fa8c6"/><circle cx="388.6" cy="88.6" r="1.6" fill="#9fa8c6"/><circle cx="389.4" cy="110.2" r="1.6" fill="#9fa8c6"/><circle cx="388.2" cy="107.9" r="1.6" fill="#9fa8c6"/><circle cx="435.0" cy="87.1" r="1.6" fill="#9fa8c6"/><circle cx="433.7" cy="95.8" r="1.6" fill="#9fa8c6"/><circle cx="399.5" cy="118.2" r="1.6" fill="#9fa8c6"/><circle cx="407.3" cy="119.6" r="1.6" fill="#9fa8c6"/><circle cx="398.7" cy="117.9" r="1.6" fill="#9fa8c6"/><circle cx="426.6" cy="80.2" r="1.6" fill="#9fa8c6"/><circle cx="421.7" cy="115.2" r="1.6" fill="#9fa8c6"/><circle cx="424.9" cy="112.2" r="1.6" fill="#9ea8c6"/><circle cx="435.1" cy="88.9" r="1.6" fill="#9ea8c6"/><circle cx="389.5" cy="109.8" r="1.6" fill="#9ea8c6"/><circle cx="392.6" cy="113.9" r="1.6" fill="#9ea7c5"/><circle cx="429.7" cy="81.1" r="1.6" fill="#9ea7c5"/><circle cx="405.8" cy="119.3" r="1.6" fill="#9ea7c5"/><circle cx="395.4" cy="116.0" r="1.6" fill="#9ea7c5"/><circle cx="411.1" cy="119.2" r="1.6" fill="#9ea7c5"/><circle cx="389.0" cy="88.4" r="1.6" fill="#9ea7c5"/><circle cx="395.8" cy="116.2" r="1.6" fill="#9ea7c5"/><circle cx="396.9" cy="116.8" r="1.6" fill="#9da7c5"/><circle cx="425.1" cy="111.6" r="1.6" fill="#9da7c5"/><circle cx="397.0" cy="81.1" r="1.6" fill="#9da7c5"/><circle cx="416.8" cy="117.6" r="1.6" fill="#9da7c5"/><circle cx="388.8" cy="107.9" r="1.6" fill="#9da7c5"/><circle cx="387.2" cy="104.1" r="1.6" fill="#9da7c5"/><circle cx="387.7" cy="91.3" r="1.6" fill="#9da7c5"/><circle cx="425.1" cy="111.4" r="1.6" fill="#9da7c5"/><circle cx="403.8" cy="80.1" r="1.6" fill="#9da7c5"/><circle cx="390.9" cy="111.2" r="1.6" fill="#9da7c5"/><circle cx="394.7" cy="82.4" r="1.6" fill="#9da6c5"/><circle cx="429.4" cy="103.5" r="1.6" fill="#9da6c5"/><circle cx="386.5" cy="99.4" r="1.6" fill="#9da6c5"/><circle cx="433.3" cy="95.4" r="1.6" fill="#9da6c5"/><circle cx="434.4" cy="87.8" r="1.6" fill="#9da6c4"/><circle cx="387.8" cy="105.0" r="1.6" fill="#9da6c4"/><circle cx="431.8" cy="98.4" r="1.6" fill="#9ca6c4"/><circle cx="392.0" cy="84.7" r="1.6" fill="#9ca6c4"/><circle cx="422.6" cy="113.9" r="1.6" fill="#9ca6c4"/><circle cx="433.3" cy="85.0" r="1.6" fill="#9ca6c4"/><circle cx="431.3" cy="99.2" r="1.6" fill="#9ca6c4"/><circle cx="423.4" cy="80.8" r="1.6" fill="#9ca6c4"/><circle cx="387.9" cy="105.0" r="1.6" fill="#9ca6c4"/><circle cx="429.3" cy="81.6" r="1.6" fill="#9ca6c4"/><circle cx="400.5" cy="80.4" r="1.6" fill="#9ca6c4"/><circle cx="389.7" cy="108.7" r="1.6" fill="#9ca5c4"/><circle cx="389.7" cy="108.6" r="1.6" fill="#9ca5c4"/><circle cx="386.8" cy="97.5" r="1.6" fill="#9ca5c4"/><circle cx="388.1" cy="105.1" r="1.6" fill="#9ca5c4"/><circle cx="407.4" cy="81.0" r="1.6" fill="#9ba5c4"/><circle cx="423.4" cy="81.0" r="1.6" fill="#9ba5c4"/><circle cx="386.9" cy="98.4" r="1.6" fill="#9ba5c4"/><circle cx="430.4" cy="100.4" r="1.6" fill="#9ba5c4"/><circle cx="424.4" cy="81.0" r="1.6" fill="#9ba5c4"/><circle cx="408.0" cy="81.2" r="1.6" fill="#9ba5c4"/><circle cx="434.1" cy="89.4" r="1.6" fill="#9ba5c3"/><circle cx="388.2" cy="104.6" r="1.6" fill="#9ba5c3"/><circle cx="434.1" cy="90.0" r="1.6" fill="#9ba5c3"/><circle cx="406.2" cy="118.7" r="1.6" fill="#9ba5c3"/><circle cx="431.1" cy="98.8" r="1.6" fill="#9ba5c3"/><circle cx="425.3" cy="110.3" r="1.6" fill="#9ba4c3"/><circle cx="388.7" cy="105.7" r="1.6" fill="#9ba4c3"/><circle cx="421.8" cy="81.4" r="1.6" fill="#9ba4c3"/><circle cx="429.6" cy="101.8" r="1.6" fill="#9ba4c3"/><circle cx="408.8" cy="118.7" r="1.6" fill="#9aa4c3"/><circle cx="392.8" cy="84.4" r="1.6" fill="#9aa4c3"/><circle cx="394.3" cy="113.8" r="1.6" fill="#9aa4c3"/><circle cx="387.1" cy="98.9" r="1.6" fill="#9aa4c3"/><circle cx="395.3" cy="114.6" r="1.6" fill="#9aa4c3"/><circle cx="433.6" cy="87.3" r="1.6" fill="#9aa4c3"/><circle cx="428.8" cy="103.4" r="1.6" fill="#9aa4c3"/><circle cx="433.8" cy="88.5" r="1.6" fill="#9aa4c3"/><circle cx="411.8" cy="118.4" r="1.6" fill="#9aa4c3"/><circle cx="387.2" cy="97.4" r="1.6" fill="#9aa4c3"/><circle cx="393.9" cy="113.3" r="1.6" fill="#9aa4c3"/><circle cx="428.2" cy="104.7" r="1.6" fill="#9aa4c3"/><circle cx="409.5" cy="118.6" r="1.6" fill="#9aa4c3"/><circle cx="398.1" cy="116.2" r="1.6" fill="#9aa4c3"/><circle cx="433.3" cy="86.7" r="1.6" fill="#9aa4c3"/><circle cx="387.4" cy="99.9" r="1.6" fill="#9aa4c3"/><circle cx="390.0" cy="107.7" r="1.6" fill="#9aa4c3"/><circle cx="418.7" cy="82.1" r="1.6" fill="#9aa4c3"/><circle cx="388.1" cy="92.7" r="1.6" fill="#99a3c3"/><circle cx="387.6" cy="100.3" r="1.6" fill="#99a3c2"/><circle cx="388.5" cy="91.6" r="1.6" fill="#99a3c2"/><circle cx="387.5" cy="96.8" r="1.6" fill="#99a3c2"/><circle cx="420.4" cy="114.8" r="1.6" fill="#99a3c2"/><circle cx="431.6" cy="96.9" r="1.6" fill="#99a3c2"/><circle cx="416.5" cy="116.8" r="1.6" fill="#99a3c2"/><circle cx="433.5" cy="88.8" r="1.6" fill="#99a3c2"/><circle cx="427.9" cy="82.1" r="1.6" fill="#99a3c2"/><circle cx="432.6" cy="94.1" r="1.6" fill="#98a3c2"/><circle cx="407.5" cy="81.6" r="1.6" fill="#98a2c2"/><circle cx="431.8" cy="85.0" r="1.6" fill="#98a2c2"/><circle cx="391.2" cy="86.6" r="1.6" fill="#98a2c2"/><circle cx="428.3" cy="103.6" r="1.6" fill="#98a2c2"/><circle cx="423.1" cy="81.8" r="1.6" fill="#98a2c2"/><circle cx="419.7" cy="115.0" r="1.6" fill="#98a2c2"/><circle cx="394.9" cy="83.2" r="1.6" fill="#98a2c2"/><circle cx="416.8" cy="82.7" r="1.6" fill="#98a2c2"/><circle cx="415.6" cy="82.8" r="1.6" fill="#98a2c2"/><circle cx="406.1" cy="81.4" r="1.6" fill="#98a2c1"/><circle cx="390.2" cy="106.8" r="1.6" fill="#98a2c1"/><circle cx="424.1" cy="81.9" r="1.6" fill="#98a2c1"/><circle cx="405.6" cy="117.9" r="1.6" fill="#98a2c1"/><circle cx="390.9" cy="87.3" r="1.6" fill="#97a2c1"/><circle cx="399.9" cy="81.3" r="1.6" fill="#97a1c1"/><circle cx="393.3" cy="111.3" r="1.6" fill="#97a1c1"/><circle cx="390.3" cy="106.7" r="1.6" fill="#97a1c1"/><circle cx="409.3" cy="82.2" r="1.6" fill="#97a1c1"/><circle cx="406.0" cy="81.5" r="1.6" fill="#97a1c1"/><circle cx="388.7" cy="102.5" r="1.6" fill="#97a1c1"/><circle cx="388.6" cy="102.1" r="1.6" fill="#97a1c1"/><circle cx="427.3" cy="82.5" r="1.6" fill="#97a1c1"/><circle cx="432.7" cy="88.4" r="1.6" fill="#97a1c1"/><circle cx="413.2" cy="83.0" r="1.6" fill="#96a1c1"/><circle cx="412.7" cy="117.5" r="1.6" fill="#96a1c1"/><circle cx="428.7" cy="83.3" r="1.6" fill="#96a1c1"/><circle cx="417.9" cy="115.6" r="1.6" fill="#96a0c0"/><circle cx="420.8" cy="113.8" r="1.6" fill="#96a0c0"/><circle cx="400.8" cy="116.2" r="1.6" fill="#96a0c0"/><circle cx="389.6" cy="90.5" r="1.6" fill="#96a0c0"/><circle cx="388.3" cy="97.8" r="1.6" fill="#96a0c0"/><circle cx="431.7" cy="94.6" r="1.6" fill="#96a0c0"/><circle cx="405.3" cy="117.5" r="1.6" fill="#96a0c0"/><circle cx="407.8" cy="82.2" r="1.6" fill="#95a0c0"/><circle cx="429.0" cy="100.7" r="1.6" fill="#95a0c0"/><circle cx="423.2" cy="82.5" r="1.6" fill="#95a0c0"/><circle cx="412.1" cy="83.1" r="1.6" fill="#95a0c0"/><circle cx="431.7" cy="94.3" r="1.6" fill="#95a0c0"/><circle cx="432.2" cy="92.0" r="1.6" fill="#95a0c0"/><circle cx="426.9" cy="83.1" r="1.6" fill="#959fc0"/><circle cx="431.7" cy="87.2" r="1.6" fill="#959fc0"/><circle cx="392.8" cy="109.4" r="1.6" fill="#959fc0"/><circle cx="403.9" cy="117.0" r="1.6" fill="#959fc0"/><circle cx="432.2" cy="89.2" r="1.6" fill="#949fbf"/><circle cx="423.1" cy="82.8" r="1.6" fill="#949fbf"/><circle cx="420.0" cy="114.0" r="1.6" fill="#949fbf"/><circle cx="392.1" cy="108.1" r="1.6" fill="#949fbf"/><circle cx="406.3" cy="82.0" r="1.6" fill="#949fbf"/><circle cx="400.8" cy="115.8" r="1.6" fill="#949fbf"/><circle cx="429.4" cy="84.5" r="1.6" fill="#949fbf"/><circle cx="429.6" cy="98.4" r="1.6" fill="#939ebf"/><circle cx="413.9" cy="116.7" r="1.6" fill="#939ebf"/><circle cx="429.4" cy="98.6" r="1.6" fill="#939ebf"/><circle cx="409.6" cy="117.3" r="1.6" fill="#939ebf"/><circle cx="395.2" cy="111.7" r="1.6" fill="#939ebf"/><circle cx="396.4" cy="112.7" r="1.6" fill="#939ebf"/><circle cx="431.8" cy="91.2" r="1.6" fill="#939ebe"/><circle cx="430.2" cy="85.8" r="1.6" fill="#939dbe"/><circle cx="429.6" cy="85.2" r="1.6" fill="#939dbe"/><circle cx="427.0" cy="104.0" r="1.6" fill="#929dbe"/><circle cx="392.4" cy="107.8" r="1.6" fill="#929dbe"/><circle cx="398.4" cy="82.4" r="1.6" fill="#929dbe"/><circle cx="411.0" cy="117.1" r="1.6" fill="#929dbe"/><circle cx="428.8" cy="84.7" r="1.6" fill="#929dbe"/><circle cx="393.8" cy="109.5" r="1.6" fill="#929dbe"/><circle cx="421.2" cy="83.5" r="1.6" fill="#929dbe"/><circle cx="423.9" cy="83.4" r="1.6" fill="#929dbe"/><circle cx="397.4" cy="82.9" r="1.6" fill="#929dbe"/><circle cx="394.8" cy="84.4" r="1.6" fill="#929dbe"/><circle cx="431.5" cy="89.7" r="1.6" fill="#929dbe"/><circle cx="389.6" cy="92.6" r="1.6" fill="#929dbe"/><circle cx="408.0" cy="82.8" r="1.6" fill="#929dbe"/><circle cx="431.2" cy="88.4" r="1.6" fill="#929dbe"/><circle cx="393.1" cy="108.4" r="1.6" fill="#929dbe"/><circle cx="389.4" cy="93.7" r="1.6" fill="#929dbe"/><circle cx="395.2" cy="111.1" r="1.6" fill="#919cbe"/><circle cx="427.6" cy="84.3" r="1.6" fill="#919cbe"/><circle cx="408.2" cy="117.0" r="1.6" fill="#919cbe"/><circle cx="427.4" cy="84.3" r="1.6" fill="#919cbd"/><circle cx="429.8" cy="96.5" r="1.6" fill="#919cbd"/><circle cx="413.6" cy="84.1" r="1.6" fill="#919cbd"/><circle cx="416.5" cy="84.2" r="1.6" fill="#909cbd"/><circle cx="431.1" cy="90.3" r="1.6" fill="#909cbd"/><circle cx="393.8" cy="108.8" r="1.6" fill="#909cbd"/><circle cx="390.9" cy="103.6" r="1.6" fill="#909cbd"/><circle cx="405.9" cy="116.6" r="1.6" fill="#909bbd"/><circle cx="428.0" cy="85.1" r="1.6" fill="#909bbd"/><circle cx="425.0" cy="107.1" r="1.6" fill="#909bbd"/><circle cx="400.7" cy="114.7" r="1.6" fill="#909bbd"/><circle cx="419.1" cy="84.2" r="1.6" fill="#909bbc"/><circle cx="399.2" cy="113.8" r="1.6" fill="#909bbc"/><circle cx="427.3" cy="84.7" r="1.6" fill="#909bbc"/><circle cx="394.1" cy="108.8" r="1.6" fill="#8f9bbc"/><circle cx="430.7" cy="92.3" r="1.6" fill="#8f9bbc"/><circle cx="430.8" cy="90.9" r="1.6" fill="#8f9bbc"/><circle cx="414.7" cy="84.5" r="1.6" fill="#8f9abc"/><circle cx="428.9" cy="86.2" r="1.6" fill="#8f9abc"/><circle cx="422.7" cy="84.2" r="1.6" fill="#8f9abc"/><circle cx="399.2" cy="113.5" r="1.6" fill="#8f9abc"/><circle cx="430.1" cy="88.1" r="1.6" fill="#8e9abc"/><circle cx="430.5" cy="90.0" r="1.6" fill="#8e9abc"/><circle cx="430.6" cy="90.4" r="1.6" fill="#8e9abc"/><circle cx="395.2" cy="109.8" r="1.6" fill="#8e9abc"/><circle cx="424.4" cy="107.7" r="1.6" fill="#8e9abc"/><circle cx="394.9" cy="109.4" r="1.6" fill="#8e9abc"/><circle cx="430.4" cy="91.1" r="1.6" fill="#8e99bb"/><circle cx="429.7" cy="94.9" r="1.6" fill="#8e99bb"/><circle cx="390.7" cy="100.9" r="1.6" fill="#8e99bb"/><circle cx="426.5" cy="85.0" r="1.6" fill="#8e99bb"/><circle cx="390.6" cy="91.7" r="1.6" fill="#8e99bb"/><circle cx="402.8" cy="115.2" r="1.6" fill="#8e99bb"/><circle cx="430.3" cy="91.1" r="1.6" fill="#8e99bb"/><circle cx="404.5" cy="82.8" r="1.6" fill="#8d99bb"/><circle cx="418.6" cy="84.7" r="1.6" fill="#8d99bb"/><circle cx="392.4" cy="87.9" r="1.6" fill="#8d99bb"/><circle cx="429.8" cy="94.0" r="1.6" fill="#8d99bb"/><circle cx="398.8" cy="83.1" r="1.6" fill="#8d99bb"/><circle cx="410.4" cy="84.2" r="1.6" fill="#8d99bb"/><circle cx="428.0" cy="99.0" r="1.6" fill="#8d99bb"/><circle cx="420.7" cy="84.7" r="1.6" fill="#8d98bb"/><circle cx="422.8" cy="84.6" r="1.6" fill="#8d98bb"/><circle cx="397.9" cy="112.1" r="1.6" fill="#8d98bb"/><circle cx="390.1" cy="95.5" r="1.6" fill="#8d98bb"/><circle cx="395.1" cy="85.2" r="1.6" fill="#8d98bb"/><circle cx="395.8" cy="84.6" r="1.6" fill="#8d98bb"/><circle cx="427.1" cy="85.7" r="1.6" fill="#8d98bb"/><circle cx="403.1" cy="115.1" r="1.6" fill="#8d98bb"/><circle cx="390.2" cy="96.5" r="1.6" fill="#8d98bb"/><circle cx="393.1" cy="106.0" r="1.6" fill="#8c98bb"/><circle cx="427.8" cy="86.2" r="1.6" fill="#8c98ba"/><circle cx="429.4" cy="88.2" r="1.6" fill="#8c98ba"/><circle cx="391.0" cy="91.2" r="1.6" fill="#8c98ba"/><circle cx="422.6" cy="109.8" r="1.6" fill="#8c98ba"/><circle cx="429.9" cy="90.3" r="1.6" fill="#8c98ba"/><circle cx="399.1" cy="83.2" r="1.6" fill="#8c98ba"/><circle cx="429.2" cy="95.3" r="1.6" fill="#8c98ba"/><circle cx="394.7" cy="85.6" r="1.6" fill="#8c98ba"/><circle cx="429.6" cy="88.8" r="1.6" fill="#8c98ba"/><circle cx="401.5" cy="82.8" r="1.6" fill="#8c98ba"/><circle cx="402.3" cy="114.7" r="1.6" fill="#8c98ba"/><circle cx="390.5" cy="98.7" r="1.6" fill="#8c98ba"/><circle cx="391.1" cy="90.9" r="1.6" fill="#8c98ba"/><circle cx="398.3" cy="112.1" r="1.6" fill="#8c98ba"/><circle cx="390.5" cy="93.5" r="1.6" fill="#8c98ba"/><circle cx="396.9" cy="84.1" r="1.6" fill="#8c98ba"/><circle cx="393.8" cy="106.7" r="1.6" fill="#8c98ba"/><circle cx="421.2" cy="84.9" r="1.6" fill="#8c97ba"/><circle cx="427.7" cy="99.3" r="1.6" fill="#8c97ba"/><circle cx="391.2" cy="101.1" r="1.6" fill="#8c97ba"/><circle cx="399.6" cy="83.1" r="1.6" fill="#8c97ba"/><circle cx="411.1" cy="84.7" r="1.6" fill="#8b97ba"/><circle cx="420.1" cy="85.1" r="1.6" fill="#8b97ba"/><circle cx="390.7" cy="98.7" r="1.6" fill="#8b97ba"/><circle cx="401.6" cy="83.0" r="1.6" fill="#8b97ba"/><circle cx="390.8" cy="98.7" r="1.6" fill="#8b97ba"/><circle cx="390.6" cy="96.4" r="1.6" fill="#8b97b9"/><circle cx="393.9" cy="106.5" r="1.6" fill="#8b97b9"/><circle cx="397.5" cy="84.0" r="1.6" fill="#8b97b9"/><circle cx="417.0" cy="114.0" r="1.6" fill="#8b96b9"/><circle cx="424.7" cy="106.0" r="1.6" fill="#8a96b9"/><circle cx="426.3" cy="86.0" r="1.6" fill="#8a96b9"/><circle cx="391.0" cy="92.2" r="1.6" fill="#8a96b9"/><circle cx="428.7" cy="95.3" r="1.6" fill="#8a96b9"/><circle cx="407.8" cy="84.0" r="1.6" fill="#8a96b9"/><circle cx="425.4" cy="85.7" r="1.6" fill="#8a96b9"/><circle cx="429.3" cy="91.3" r="1.6" fill="#8a96b9"/><circle cx="401.9" cy="113.9" r="1.6" fill="#8a96b9"/><circle cx="423.7" cy="85.5" r="1.6" fill="#8a96b9"/><circle cx="405.0" cy="83.4" r="1.6" fill="#8a96b9"/><circle cx="390.9" cy="93.9" r="1.6" fill="#8996b9"/><circle cx="422.9" cy="85.5" r="1.6" fill="#8995b9"/><circle cx="411.0" cy="115.7" r="1.6" fill="#8995b9"/><circle cx="390.9" cy="94.4" r="1.6" fill="#8995b9"/><circle cx="412.8" cy="115.3" r="1.6" fill="#8995b8"/><circle cx="411.6" cy="115.6" r="1.6" fill="#8995b8"/><circle cx="416.3" cy="114.1" r="1.6" fill="#8995b8"/><circle cx="402.8" cy="114.2" r="1.6" fill="#8995b8"/><circle cx="405.8" cy="115.3" r="1.6" fill="#8995b8"/><circle cx="426.2" cy="86.5" r="1.6" fill="#8995b8"/><circle cx="425.7" cy="103.0" r="1.6" fill="#8995b8"/><circle cx="398.7" cy="83.9" r="1.6" fill="#8995b8"/><circle cx="398.4" cy="111.1" r="1.6" fill="#8895b8"/><circle cx="427.6" cy="97.8" r="1.6" fill="#8895b8"/><circle cx="420.7" cy="110.9" r="1.6" fill="#8894b8"/><circle cx="406.1" cy="115.1" r="1.6" fill="#8894b8"/><circle cx="392.8" cy="88.8" r="1.6" fill="#8894b8"/><circle cx="392.9" cy="103.2" r="1.6" fill="#8894b8"/><circle cx="415.8" cy="85.9" r="1.6" fill="#8894b8"/><circle cx="425.6" cy="102.9" r="1.6" fill="#8894b7"/><circle cx="393.6" cy="87.8" r="1.6" fill="#8794b7"/><circle cx="418.3" cy="112.7" r="1.6" fill="#8794b7"/><circle cx="426.0" cy="101.5" r="1.6" fill="#8793b7"/><circle cx="411.9" cy="85.5" r="1.6" fill="#8793b7"/><circle cx="397.2" cy="84.8" r="1.6" fill="#8793b7"/><circle cx="400.4" cy="83.7" r="1.6" fill="#8793b7"/><circle cx="425.0" cy="86.7" r="1.6" fill="#8793b7"/><circle cx="392.9" cy="102.6" r="1.6" fill="#8793b7"/><circle cx="393.3" cy="103.4" r="1.6" fill="#8793b7"/><circle cx="427.3" cy="97.3" r="1.6" fill="#8793b7"/><circle cx="392.8" cy="102.3" r="1.6" fill="#8693b7"/><circle cx="391.8" cy="91.8" r="1.6" fill="#8693b7"/><circle cx="396.6" cy="85.2" r="1.6" fill="#8693b7"/><circle cx="396.2" cy="108.0" r="1.6" fill="#8693b7"/><circle cx="394.7" cy="105.7" r="1.6" fill="#8692b6"/><circle cx="404.1" cy="114.2" r="1.6" fill="#8692b6"/><circle cx="395.5" cy="86.1" r="1.6" fill="#8692b6"/><circle cx="426.6" cy="99.2" r="1.6" fill="#8692b6"/><circle cx="428.0" cy="91.3" r="1.6" fill="#8692b6"/><circle cx="425.5" cy="102.2" r="1.6" fill="#8592b6"/><circle cx="413.3" cy="86.1" r="1.6" fill="#8592b6"/><circle cx="426.5" cy="88.1" r="1.6" fill="#8592b6"/><circle cx="404.3" cy="114.1" r="1.6" fill="#8592b6"/><circle cx="419.6" cy="111.4" r="1.6" fill="#8592b6"/><circle cx="392.7" cy="90.0" r="1.6" fill="#8592b6"/><circle cx="422.3" cy="86.5" r="1.6" fill="#8592b6"/><circle cx="393.8" cy="103.7" r="1.6" fill="#8592b6"/><circle cx="417.6" cy="112.8" r="1.6" fill="#8592b6"/><circle cx="420.8" cy="110.2" r="1.6" fill="#8592b6"/><circle cx="394.6" cy="105.1" r="1.6" fill="#8592b6"/><circle cx="418.2" cy="86.5" r="1.6" fill="#8591b6"/><circle cx="427.6" cy="90.4" r="1.6" fill="#8591b6"/><circle cx="407.2" cy="84.7" r="1.6" fill="#8591b6"/><circle cx="413.4" cy="114.5" r="1.6" fill="#8491b6"/><circle cx="393.7" cy="88.5" r="1.6" fill="#8491b6"/><circle cx="427.8" cy="92.4" r="1.6" fill="#8491b6"/><circle cx="425.4" cy="87.7" r="1.6" fill="#8491b5"/><circle cx="427.3" cy="90.1" r="1.6" fill="#8491b5"/><circle cx="416.0" cy="86.6" r="1.6" fill="#8490b5"/><circle cx="427.6" cy="92.6" r="1.6" fill="#8490b5"/><circle cx="410.2" cy="114.8" r="1.6" fill="#8390b5"/><circle cx="396.6" cy="85.7" r="1.6" fill="#8390b5"/><circle cx="409.2" cy="114.8" r="1.6" fill="#8390b5"/><circle cx="425.5" cy="88.3" r="1.6" fill="#8390b5"/><circle cx="395.2" cy="105.3" r="1.6" fill="#8390b4"/><circle cx="409.3" cy="114.7" r="1.6" fill="#8390b4"/><circle cx="392.0" cy="96.4" r="1.6" fill="#8390b4"/><circle cx="401.3" cy="112.0" r="1.6" fill="#828fb4"/><circle cx="395.3" cy="105.3" r="1.6" fill="#828fb4"/><circle cx="398.9" cy="84.8" r="1.6" fill="#828fb4"/><circle cx="416.6" cy="112.9" r="1.6" fill="#828fb4"/><circle cx="396.7" cy="85.9" r="1.6" fill="#828fb4"/><circle cx="425.7" cy="89.0" r="1.6" fill="#828fb4"/><circle cx="397.4" cy="85.5" r="1.6" fill="#828fb4"/><circle cx="407.5" cy="114.4" r="1.6" fill="#828fb4"/><circle cx="403.1" cy="84.3" r="1.6" fill="#828fb4"/><circle cx="394.7" cy="103.9" r="1.6" fill="#828fb4"/><circle cx="404.7" cy="113.6" r="1.6" fill="#828fb4"/><circle cx="414.2" cy="113.8" r="1.6" fill="#828fb4"/><circle cx="418.4" cy="87.1" r="1.6" fill="#828fb4"/><circle cx="409.3" cy="85.8" r="1.6" fill="#818fb4"/><circle cx="426.6" cy="96.2" r="1.6" fill="#818fb4"/><circle cx="426.4" cy="90.2" r="1.6" fill="#818fb4"/><circle cx="403.4" cy="113.0" r="1.6" fill="#818eb3"/><circle cx="420.9" cy="109.3" r="1.6" fill="#818eb3"/><circle cx="426.8" cy="92.4" r="1.6" fill="#818eb3"/><circle cx="418.6" cy="87.3" r="1.6" fill="#818eb3"/><circle cx="414.6" cy="87.0" r="1.6" fill="#818eb3"/><circle cx="418.6" cy="111.4" r="1.6" fill="#818eb3"/><circle cx="408.2" cy="85.6" r="1.6" fill="#818eb3"/><circle cx="402.2" cy="84.5" r="1.6" fill="#808eb3"/><circle cx="399.5" cy="110.0" r="1.6" fill="#808db3"/><circle cx="425.3" cy="89.4" r="1.6" fill="#808db3"/><circle cx="392.4" cy="94.8" r="1.6" fill="#808db3"/><circle cx="419.8" cy="87.5" r="1.6" fill="#808db3"/><circle cx="415.3" cy="113.2" r="1.6" fill="#808db3"/><circle cx="395.7" cy="105.0" r="1.6" fill="#808db3"/><circle cx="426.2" cy="91.1" r="1.6" fill="#808db3"/><circle cx="412.5" cy="86.8" r="1.6" fill="#808db3"/><circle cx="392.8" cy="98.1" r="1.6" fill="#808db3"/><circle cx="398.2" cy="85.5" r="1.6" fill="#808db3"/><circle cx="425.7" cy="90.2" r="1.6" fill="#808db2"/><circle cx="422.1" cy="107.3" r="1.6" fill="#7f8db2"/><circle cx="398.3" cy="108.4" r="1.6" fill="#7f8db2"/><circle cx="404.5" cy="113.1" r="1.6" fill="#7f8db2"/><circle cx="397.2" cy="86.0" r="1.6" fill="#7f8db2"/><circle cx="397.4" cy="107.2" r="1.6" fill="#7f8cb2"/><circle cx="423.9" cy="103.6" r="1.6" fill="#7f8cb2"/><circle cx="398.8" cy="108.9" r="1.6" fill="#7f8cb2"/><circle cx="403.3" cy="84.7" r="1.6" fill="#7f8cb2"/><circle cx="399.9" cy="109.9" r="1.6" fill="#7f8cb2"/><circle cx="393.0" cy="92.0" r="1.6" fill="#7f8cb2"/><circle cx="394.5" cy="102.3" r="1.6" fill="#7f8cb2"/><circle cx="423.0" cy="105.6" r="1.6" fill="#7f8cb2"/><circle cx="393.1" cy="98.3" r="1.6" fill="#7f8cb2"/><circle cx="426.0" cy="92.5" r="1.6" fill="#7e8cb2"/><circle cx="397.1" cy="86.4" r="1.6" fill="#7e8bb1"/><circle cx="405.7" cy="85.3" r="1.6" fill="#7e8bb1"/><circle cx="396.9" cy="106.0" r="1.6" fill="#7e8bb1"/><circle cx="425.5" cy="91.0" r="1.6" fill="#7e8bb1"/><circle cx="401.5" cy="84.9" r="1.6" fill="#7e8bb1"/><circle cx="406.6" cy="85.6" r="1.6" fill="#7d8bb1"/><circle cx="398.7" cy="85.6" r="1.6" fill="#7d8bb1"/><circle cx="404.6" cy="112.9" r="1.6" fill="#7d8bb1"/><circle cx="394.2" cy="89.5" r="1.6" fill="#7d8bb1"/><circle cx="424.4" cy="89.7" r="1.6" fill="#7d8bb1"/><circle cx="422.9" cy="105.5" r="1.6" fill="#7d8bb1"/><circle cx="423.8" cy="103.3" r="1.6" fill="#7d8bb1"/><circle cx="423.6" cy="103.8" r="1.6" fill="#7d8bb1"/><circle cx="425.8" cy="95.1" r="1.6" fill="#7d8bb1"/><circle cx="393.5" cy="98.6" r="1.6" fill="#7d8ab1"/><circle cx="404.0" cy="112.4" r="1.6" fill="#7c8ab1"/><circle cx="399.9" cy="109.3" r="1.6" fill="#7c8ab1"/><circle cx="394.5" cy="101.3" r="1.6" fill="#7c8ab1"/><circle cx="425.7" cy="93.9" r="1.6" fill="#7c8ab0"/><circle cx="411.7" cy="113.6" r="1.6" fill="#7c8ab0"/><circle cx="422.9" cy="89.2" r="1.6" fill="#7c8ab0"/><circle cx="393.2" cy="96.8" r="1.6" fill="#7c8ab0"/><circle cx="418.0" cy="88.2" r="1.6" fill="#7c8ab0"/><circle cx="419.0" cy="88.4" r="1.6" fill="#7c89b0"/><circle cx="405.2" cy="112.8" r="1.6" fill="#7c89b0"/><circle cx="395.1" cy="88.8" r="1.6" fill="#7b89b0"/><circle cx="395.4" cy="88.3" r="1.6" fill="#7b89b0"/><circle cx="396.0" cy="87.8" r="1.6" fill="#7b89af"/><circle cx="411.8" cy="113.4" r="1.6" fill="#7b89af"/><circle cx="399.7" cy="85.6" r="1.6" fill="#7b89af"/><circle cx="422.5" cy="105.5" r="1.6" fill="#7b89af"/><circle cx="400.8" cy="109.7" r="1.6" fill="#7b89af"/><circle cx="398.0" cy="106.5" r="1.6" fill="#7a88af"/><circle cx="416.4" cy="88.3" r="1.6" fill="#7a88af"/><circle cx="393.5" cy="93.8" r="1.6" fill="#7a88af"/><circle cx="423.2" cy="90.1" r="1.6" fill="#7a88af"/><circle cx="396.4" cy="104.0" r="1.6" fill="#7a88af"/><circle cx="423.8" cy="90.6" r="1.6" fill="#7a88af"/><circle cx="424.1" cy="91.1" r="1.6" fill="#7a88af"/><circle cx="424.3" cy="91.5" r="1.6" fill="#7a88af"/><circle cx="423.9" cy="101.5" r="1.6" fill="#7a88af"/><circle cx="394.0" cy="98.3" r="1.6" fill="#7a88af"/><circle cx="419.9" cy="108.9" r="1.6" fill="#7988af"/><circle cx="424.5" cy="92.0" r="1.6" fill="#7988af"/><circle cx="395.8" cy="88.3" r="1.6" fill="#7987af"/><circle cx="412.8" cy="87.9" r="1.6" fill="#7987af"/><circle cx="414.0" cy="112.6" r="1.6" fill="#7987ae"/><circle cx="421.1" cy="89.4" r="1.6" fill="#7987ae"/><circle cx="402.7" cy="110.9" r="1.6" fill="#7987ae"/><circle cx="424.8" cy="93.7" r="1.6" fill="#7987ae"/><circle cx="395.2" cy="101.2" r="1.6" fill="#7987ae"/><circle cx="424.3" cy="99.7" r="1.6" fill="#7987ae"/><circle cx="419.6" cy="109.0" r="1.6" fill="#7887ae"/><circle cx="395.7" cy="102.1" r="1.6" fill="#7887ae"/><circle cx="403.3" cy="111.2" r="1.6" fill="#7887ae"/><circle cx="398.1" cy="106.1" r="1.6" fill="#7886ae"/><circle cx="423.6" cy="91.3" r="1.6" fill="#7886ae"/><circle cx="423.6" cy="91.4" r="1.6" fill="#7886ae"/><circle cx="397.0" cy="87.5" r="1.6" fill="#7886ae"/><circle cx="404.5" cy="111.8" r="1.6" fill="#7886ae"/><circle cx="414.0" cy="112.5" r="1.6" fill="#7886ae"/><circle cx="399.0" cy="107.1" r="1.6" fill="#7886ae"/><circle cx="399.9" cy="86.0" r="1.6" fill="#7886ae"/><circle cx="398.6" cy="86.5" r="1.6" fill="#7886ae"/><circle cx="412.3" cy="88.1" r="1.6" fill="#7886ae"/><circle cx="420.8" cy="89.7" r="1.6" fill="#7786ad"/><circle cx="408.5" cy="87.0" r="1.6" fill="#7786ad"/><circle cx="418.4" cy="89.1" r="1.6" fill="#7786ad"/><circle cx="411.2" cy="113.0" r="1.6" fill="#7786ad"/><circle cx="404.5" cy="111.7" r="1.6" fill="#7785ad"/><circle cx="411.2" cy="112.9" r="1.6" fill="#7785ad"/><circle cx="416.8" cy="89.0" r="1.6" fill="#7785ad"/><circle cx="415.4" cy="111.8" r="1.6" fill="#7785ad"/><circle cx="418.2" cy="89.2" r="1.6" fill="#7785ad"/><circle cx="394.1" cy="96.5" r="1.6" fill="#7785ad"/><circle cx="419.8" cy="108.5" r="1.6" fill="#7685ad"/><circle cx="417.6" cy="110.5" r="1.6" fill="#7685ad"/><circle cx="418.0" cy="89.3" r="1.6" fill="#7685ad"/><circle cx="422.5" cy="104.1" r="1.6" fill="#7685ad"/><circle cx="412.7" cy="112.6" r="1.6" fill="#7685ad"/><circle cx="400.3" cy="108.2" r="1.6" fill="#7685ad"/><circle cx="424.1" cy="93.6" r="1.6" fill="#7685ad"/><circle cx="424.1" cy="93.7" r="1.6" fill="#7685ad"/><circle cx="420.6" cy="90.0" r="1.6" fill="#7684ac"/><circle cx="424.3" cy="95.4" r="1.6" fill="#7684ac"/><circle cx="416.9" cy="110.8" r="1.6" fill="#7684ac"/><circle cx="418.4" cy="109.7" r="1.6" fill="#7684ac"/><circle cx="400.3" cy="86.3" r="1.6" fill="#7584ac"/><circle cx="424.1" cy="95.0" r="1.6" fill="#7584ac"/><circle cx="398.3" cy="87.1" r="1.6" fill="#7584ac"/><circle cx="422.4" cy="91.3" r="1.6" fill="#7584ac"/><circle cx="424.0" cy="98.0" r="1.6" fill="#7584ac"/><circle cx="415.3" cy="89.1" r="1.6" fill="#7584ac"/><circle cx="399.7" cy="107.1" r="1.6" fill="#7584ac"/><circle cx="423.1" cy="92.2" r="1.6" fill="#7583ac"/><circle cx="417.5" cy="89.5" r="1.6" fill="#7583ac"/><circle cx="417.7" cy="110.1" r="1.6" fill="#7583ac"/><circle cx="402.1" cy="86.2" r="1.6" fill="#7583ac"/><circle cx="418.8" cy="89.8" r="1.6" fill="#7583ac"/><circle cx="410.9" cy="112.7" r="1.6" fill="#7583ac"/><circle cx="422.7" cy="91.9" r="1.6" fill="#7483ac"/><circle cx="420.3" cy="107.5" r="1.6" fill="#7483ac"/><circle cx="404.7" cy="86.4" r="1.6" fill="#7483ac"/><circle cx="415.5" cy="111.4" r="1.6" fill="#7483ac"/><circle cx="403.3" cy="86.3" r="1.6" fill="#7483ab"/><circle cx="394.5" cy="95.6" r="1.6" fill="#7483ab"/><circle cx="404.5" cy="111.0" r="1.6" fill="#7382ab"/><circle cx="423.5" cy="98.5" r="1.6" fill="#7382ab"/><circle cx="420.4" cy="90.7" r="1.6" fill="#7382ab"/><circle cx="411.1" cy="112.4" r="1.6" fill="#7382ab"/><circle cx="410.2" cy="112.4" r="1.6" fill="#7382aa"/><circle cx="401.9" cy="86.5" r="1.6" fill="#7281aa"/><circle cx="423.1" cy="93.6" r="1.6" fill="#7281aa"/><circle cx="406.3" cy="111.7" r="1.6" fill="#7281aa"/><circle cx="421.5" cy="104.9" r="1.6" fill="#7281aa"/><circle cx="413.1" cy="111.9" r="1.6" fill="#7281aa"/><circle cx="406.4" cy="111.6" r="1.6" fill="#7281aa"/><circle cx="416.7" cy="110.3" r="1.6" fill="#7281aa"/><circle cx="420.9" cy="106.0" r="1.6" fill="#7281aa"/><circle cx="422.6" cy="93.2" r="1.6" fill="#7181aa"/><circle cx="418.5" cy="90.4" r="1.6" fill="#7180aa"/><circle cx="418.7" cy="90.5" r="1.6" fill="#7180aa"/><circle cx="417.3" cy="90.1" r="1.6" fill="#7180a9"/><circle cx="414.1" cy="89.5" r="1.6" fill="#7180a9"/><circle cx="423.1" cy="94.7" r="1.6" fill="#7180a9"/><circle cx="413.0" cy="89.3" r="1.6" fill="#7180a9"/><circle cx="398.7" cy="104.7" r="1.6" fill="#7180a9"/><circle cx="422.7" cy="93.7" r="1.6" fill="#7180a9"/><circle cx="401.1" cy="86.9" r="1.6" fill="#7180a9"/><circle cx="395.1" cy="96.7" r="1.6" fill="#7080a9"/><circle cx="415.2" cy="89.8" r="1.6" fill="#7080a9"/><circle cx="408.9" cy="112.0" r="1.6" fill="#7080a9"/><circle cx="410.1" cy="112.0" r="1.6" fill="#707fa9"/><circle cx="397.9" cy="103.0" r="1.6" fill="#6f7fa8"/><circle cx="415.2" cy="90.0" r="1.6" fill="#6f7fa8"/><circle cx="421.4" cy="104.2" r="1.6" fill="#6f7fa8"/><circle cx="410.0" cy="111.9" r="1.6" fill="#6f7fa8"/><circle cx="398.8" cy="87.9" r="1.6" fill="#6f7ea8"/><circle cx="422.9" cy="98.0" r="1.6" fill="#6f7ea8"/><circle cx="418.3" cy="108.6" r="1.6" fill="#6f7ea8"/><circle cx="421.8" cy="93.2" r="1.6" fill="#6e7ea8"/><circle cx="400.8" cy="87.2" r="1.6" fill="#6e7ea8"/><circle cx="395.5" cy="92.6" r="1.6" fill="#6e7ea8"/><circle cx="419.7" cy="107.0" r="1.6" fill="#6e7ea8"/><circle cx="419.8" cy="106.6" r="1.6" fill="#6e7da7"/><circle cx="422.5" cy="100.2" r="1.6" fill="#6e7da7"/><circle cx="421.5" cy="103.4" r="1.6" fill="#6d7da7"/><circle cx="403.8" cy="87.3" r="1.6" fill="#6d7da7"/><circle cx="395.5" cy="93.5" r="1.6" fill="#6d7da7"/><circle cx="421.8" cy="102.5" r="1.6" fill="#6d7da7"/><circle cx="420.3" cy="105.7" r="1.6" fill="#6d7da7"/><circle cx="397.5" cy="101.4" r="1.6" fill="#6d7da7"/><circle cx="395.5" cy="93.9" r="1.6" fill="#6d7da7"/><circle cx="406.1" cy="110.6" r="1.6" fill="#6d7ca7"/><circle cx="395.6" cy="93.9" r="1.6" fill="#6d7ca7"/><circle cx="418.3" cy="108.2" r="1.6" fill="#6c7ca7"/><circle cx="395.9" cy="97.1" r="1.6" fill="#6c7ca7"/><circle cx="412.6" cy="111.3" r="1.6" fill="#6c7ca7"/><circle cx="413.6" cy="90.2" r="1.6" fill="#6c7ca6"/><circle cx="400.7" cy="105.9" r="1.6" fill="#6c7ca6"/><circle cx="421.6" cy="94.2" r="1.6" fill="#6c7ca6"/><circle cx="406.4" cy="110.6" r="1.6" fill="#6c7ca6"/><circle cx="410.1" cy="111.4" r="1.6" fill="#6c7ca6"/><circle cx="403.7" cy="109.0" r="1.6" fill="#6c7ca6"/><circle cx="406.9" cy="88.3" r="1.6" fill="#6b7ba6"/><circle cx="416.6" cy="91.1" r="1.6" fill="#6b7ba6"/><circle cx="401.6" cy="106.9" r="1.6" fill="#6b7ba6"/><circle cx="412.0" cy="89.9" r="1.6" fill="#6b7ba6"/><circle cx="418.7" cy="91.9" r="1.6" fill="#6b7ba6"/><circle cx="403.0" cy="108.2" r="1.6" fill="#6b7ba6"/><circle cx="402.1" cy="87.6" r="1.6" fill="#6b7ba6"/><circle cx="420.2" cy="105.3" r="1.6" fill="#6b7ba6"/><circle cx="397.4" cy="90.0" r="1.6" fill="#6b7ba5"/><circle cx="403.4" cy="87.7" r="1.6" fill="#6a7ba5"/><circle cx="396.0" cy="93.4" r="1.6" fill="#6a7aa5"/><circle cx="405.5" cy="88.1" r="1.6" fill="#6a7aa5"/><circle cx="408.8" cy="111.1" r="1.6" fill="#6a7aa5"/><circle cx="404.7" cy="87.9" r="1.6" fill="#6a7aa5"/><circle cx="422.1" cy="97.2" r="1.6" fill="#6a7aa5"/><circle cx="416.9" cy="91.4" r="1.6" fill="#6a7aa5"/><circle cx="422.0" cy="97.5" r="1.6" fill="#6a7aa5"/><circle cx="409.8" cy="111.1" r="1.6" fill="#6a7aa5"/><circle cx="398.2" cy="89.4" r="1.6" fill="#6a7aa5"/><circle cx="422.0" cy="97.0" r="1.6" fill="#6a7aa5"/><circle cx="418.0" cy="91.9" r="1.6" fill="#697aa5"/><circle cx="403.6" cy="87.8" r="1.6" fill="#697aa5"/><circle cx="418.0" cy="108.0" r="1.6" fill="#697aa5"/><circle cx="397.8" cy="100.7" r="1.6" fill="#697aa5"/><circle cx="396.7" cy="91.5" r="1.6" fill="#697aa5"/><circle cx="421.7" cy="96.2" r="1.6" fill="#6979a4"/><circle cx="421.3" cy="102.0" r="1.6" fill="#6979a4"/><circle cx="400.6" cy="105.0" r="1.6" fill="#6979a4"/><circle cx="421.2" cy="94.8" r="1.6" fill="#6979a4"/><circle cx="421.7" cy="99.9" r="1.6" fill="#6879a4"/><circle cx="412.2" cy="110.8" r="1.6" fill="#6879a4"/><circle cx="404.8" cy="109.2" r="1.6" fill="#6879a4"/><circle cx="418.4" cy="92.3" r="1.6" fill="#6879a4"/><circle cx="398.8" cy="89.2" r="1.6" fill="#6879a4"/><circle cx="421.0" cy="94.6" r="1.6" fill="#6879a4"/><circle cx="402.0" cy="106.5" r="1.6" fill="#6878a4"/><circle cx="421.5" cy="100.8" r="1.6" fill="#6878a4"/><circle cx="417.5" cy="92.1" r="1.6" fill="#6878a4"/><circle cx="421.6" cy="99.8" r="1.6" fill="#6878a4"/><circle cx="397.3" cy="91.2" r="1.6" fill="#6778a3"/><circle cx="410.3" cy="110.7" r="1.6" fill="#6777a3"/><circle cx="403.0" cy="107.4" r="1.6" fill="#6777a3"/><circle cx="397.1" cy="98.0" r="1.6" fill="#6777a3"/><circle cx="396.6" cy="93.7" r="1.6" fill="#6777a3"/><circle cx="396.6" cy="95.5" r="1.6" fill="#6777a3"/><circle cx="397.3" cy="91.4" r="1.6" fill="#6777a3"/><circle cx="419.5" cy="105.4" r="1.6" fill="#6677a3"/><circle cx="419.5" cy="93.5" r="1.6" fill="#6677a3"/><circle cx="403.2" cy="88.3" r="1.6" fill="#6677a3"/><circle cx="417.2" cy="108.0" r="1.6" fill="#6677a3"/><circle cx="412.6" cy="90.8" r="1.6" fill="#6677a3"/><circle cx="398.3" cy="100.6" r="1.6" fill="#6677a3"/><circle cx="421.4" cy="98.9" r="1.6" fill="#6676a2"/><circle cx="416.6" cy="108.5" r="1.6" fill="#6676a2"/><circle cx="398.9" cy="101.4" r="1.6" fill="#6676a2"/><circle cx="398.4" cy="90.3" r="1.6" fill="#6576a2"/><circle cx="398.0" cy="90.8" r="1.6" fill="#6576a2"/><circle cx="398.6" cy="100.8" r="1.6" fill="#6576a2"/><circle cx="397.4" cy="91.9" r="1.6" fill="#6576a2"/><circle cx="421.2" cy="99.5" r="1.6" fill="#6576a2"/><circle cx="396.9" cy="95.5" r="1.6" fill="#6575a2"/><circle cx="420.5" cy="102.6" r="1.6" fill="#6575a2"/><circle cx="398.7" cy="90.1" r="1.6" fill="#6475a2"/><circle cx="407.3" cy="89.4" r="1.6" fill="#6475a2"/><circle cx="401.8" cy="88.7" r="1.6" fill="#6475a2"/><circle cx="402.4" cy="88.6" r="1.6" fill="#6475a1"/><circle cx="419.8" cy="104.2" r="1.6" fill="#6475a1"/><circle cx="421.1" cy="98.0" r="1.6" fill="#6475a1"/><circle cx="408.8" cy="110.2" r="1.6" fill="#6475a1"/><circle cx="408.0" cy="89.7" r="1.6" fill="#6475a1"/><circle cx="417.4" cy="92.7" r="1.6" fill="#6475a1"/><circle cx="414.9" cy="91.8" r="1.6" fill="#6475a1"/><circle cx="416.2" cy="108.5" r="1.6" fill="#6475a1"/><circle cx="397.0" cy="93.9" r="1.6" fill="#6475a1"/><circle cx="397.1" cy="93.4" r="1.6" fill="#6475a1"/><circle cx="420.4" cy="102.7" r="1.6" fill="#6475a1"/><circle cx="398.7" cy="90.2" r="1.6" fill="#6475a1"/><circle cx="404.8" cy="88.9" r="1.6" fill="#6475a1"/><circle cx="401.7" cy="88.8" r="1.6" fill="#6475a1"/><circle cx="403.5" cy="88.8" r="1.6" fill="#6374a1"/><circle cx="407.5" cy="109.7" r="1.6" fill="#6374a1"/><circle cx="402.5" cy="106.0" r="1.6" fill="#6374a1"/><circle cx="397.2" cy="93.4" r="1.6" fill="#6374a1"/><circle cx="407.2" cy="109.5" r="1.6" fill="#6374a1"/><circle cx="397.2" cy="95.1" r="1.6" fill="#6374a1"/><circle cx="404.8" cy="89.0" r="1.6" fill="#6374a1"/><circle cx="404.3" cy="107.7" r="1.6" fill="#6374a1"/><circle cx="397.7" cy="92.3" r="1.6" fill="#6274a0"/><circle cx="411.0" cy="110.1" r="1.6" fill="#6273a0"/><circle cx="420.8" cy="98.4" r="1.6" fill="#6273a0"/><circle cx="411.8" cy="110.0" r="1.6" fill="#6273a0"/><circle cx="409.3" cy="90.4" r="1.6" fill="#6273a0"/><circle cx="397.4" cy="93.5" r="1.6" fill="#6273a0"/><circle cx="406.7" cy="109.1" r="1.6" fill="#6273a0"/><circle cx="401.7" cy="89.1" r="1.6" fill="#6273a0"/><circle cx="420.5" cy="101.0" r="1.6" fill="#6273a0"/><circle cx="397.5" cy="93.6" r="1.6" fill="#6273a0"/><circle cx="403.7" cy="106.9" r="1.6" fill="#6273a0"/><circle cx="420.4" cy="101.4" r="1.6" fill="#6173a0"/><circle cx="407.6" cy="109.4" r="1.6" fill="#6173a0"/><circle cx="420.6" cy="100.2" r="1.6" fill="#6172a0"/><circle cx="397.5" cy="95.5" r="1.6" fill="#6172a0"/><circle cx="419.2" cy="104.4" r="1.6" fill="#6172a0"/><circle cx="402.2" cy="89.2" r="1.6" fill="#6172a0"/><circle cx="399.4" cy="90.3" r="1.6" fill="#6172a0"/><circle cx="404.9" cy="107.8" r="1.6" fill="#61729f"/><circle cx="405.9" cy="89.6" r="1.6" fill="#61729f"/><circle cx="419.9" cy="96.1" r="1.6" fill="#61729f"/><circle cx="397.6" cy="95.5" r="1.6" fill="#60729f"/><circle cx="407.5" cy="109.2" r="1.6" fill="#60729f"/><circle cx="409.9" cy="109.7" r="1.6" fill="#60729f"/><circle cx="410.6" cy="109.8" r="1.6" fill="#60729f"/><circle cx="418.5" cy="105.5" r="1.6" fill="#60729f"/><circle cx="404.8" cy="89.5" r="1.6" fill="#60719f"/><circle cx="399.2" cy="100.1" r="1.6" fill="#60719f"/><circle cx="397.9" cy="93.1" r="1.6" fill="#60719f"/><circle cx="397.7" cy="94.3" r="1.6" fill="#60719f"/><circle cx="403.0" cy="89.4" r="1.6" fill="#60719f"/><circle cx="403.8" cy="106.4" r="1.6" fill="#5f719e"/><circle cx="413.8" cy="92.3" r="1.6" fill="#5f719e"/><circle cx="406.3" cy="90.1" r="1.6" fill="#5f709e"/><circle cx="398.0" cy="95.2" r="1.6" fill="#5e709e"/><circle cx="419.7" cy="96.8" r="1.6" fill="#5e709e"/><circle cx="400.0" cy="100.8" r="1.6" fill="#5e709e"/><circle cx="417.1" cy="106.6" r="1.6" fill="#5e6f9d"/><circle cx="405.8" cy="107.8" r="1.6" fill="#5d6f9d"/><circle cx="398.2" cy="95.6" r="1.6" fill="#5d6f9d"/><circle cx="398.3" cy="93.7" r="1.6" fill="#5d6f9d"/><circle cx="404.4" cy="106.6" r="1.6" fill="#5d6f9d"/><circle cx="399.4" cy="99.5" r="1.6" fill="#5d6f9d"/><circle cx="403.6" cy="89.8" r="1.6" fill="#5d6f9d"/><circle cx="416.7" cy="106.9" r="1.6" fill="#5d6f9d"/><circle cx="412.6" cy="92.3" r="1.6" fill="#5d6f9d"/><circle cx="399.9" cy="91.0" r="1.6" fill="#5d6f9d"/><circle cx="417.0" cy="106.6" r="1.6" fill="#5d6f9d"/><circle cx="398.9" cy="97.9" r="1.6" fill="#5c6e9d"/><circle cx="413.6" cy="92.7" r="1.6" fill="#5c6e9d"/><circle cx="400.3" cy="100.8" r="1.6" fill="#5c6e9d"/><circle cx="419.7" cy="101.0" r="1.6" fill="#5c6e9d"/><circle cx="417.5" cy="105.9" r="1.6" fill="#5c6e9c"/><circle cx="398.5" cy="95.9" r="1.6" fill="#5c6e9c"/><circle cx="401.5" cy="90.3" r="1.6" fill="#5c6e9c"/><circle cx="415.7" cy="93.6" r="1.6" fill="#5c6e9c"/><circle cx="410.1" cy="109.1" r="1.6" fill="#5c6e9c"/><circle cx="411.9" cy="109.0" r="1.6" fill="#5c6e9c"/><circle cx="409.4" cy="91.5" r="1.6" fill="#5b6e9c"/><circle cx="402.4" cy="103.9" r="1.6" fill="#5b6d9c"/><circle cx="419.6" cy="100.3" r="1.6" fill="#5b6d9c"/><circle cx="418.5" cy="104.1" r="1.6" fill="#5b6d9c"/><circle cx="418.2" cy="104.6" r="1.6" fill="#5b6d9c"/><circle cx="408.7" cy="108.7" r="1.6" fill="#5b6d9c"/><circle cx="417.0" cy="94.6" r="1.6" fill="#5b6d9c"/><circle cx="418.2" cy="104.4" r="1.6" fill="#5a6d9b"/><circle cx="409.2" cy="91.6" r="1.6" fill="#5a6d9b"/><circle cx="414.1" cy="108.2" r="1.6" fill="#5a6d9b"/><circle cx="415.0" cy="107.7" r="1.6" fill="#5a6d9b"/><circle cx="402.9" cy="104.3" r="1.6" fill="#5a6d9b"/><circle cx="414.9" cy="93.5" r="1.6" fill="#5a6d9b"/><circle cx="416.3" cy="106.7" r="1.6" fill="#5a6c9b"/><circle cx="414.2" cy="93.3" r="1.6" fill="#5a6c9b"/><circle cx="410.8" cy="108.9" r="1.6" fill="#5a6c9b"/><circle cx="398.8" cy="94.6" r="1.6" fill="#5a6c9b"/><circle cx="404.3" cy="90.5" r="1.6" fill="#5a6c9b"/><circle cx="419.0" cy="97.8" r="1.6" fill="#596c9b"/><circle cx="398.9" cy="95.2" r="1.6" fill="#596c9b"/><circle cx="400.3" cy="99.8" r="1.6" fill="#596b9b"/><circle cx="419.2" cy="98.7" r="1.6" fill="#596b9b"/><circle cx="419.1" cy="98.2" r="1.6" fill="#596b9a"/><circle cx="407.2" cy="107.8" r="1.6" fill="#596b9a"/><circle cx="410.6" cy="108.7" r="1.6" fill="#596b9a"/><circle cx="399.1" cy="95.5" r="1.6" fill="#596b9a"/><circle cx="401.5" cy="101.7" r="1.6" fill="#596b9a"/><circle cx="405.4" cy="90.8" r="1.6" fill="#596b9a"/><circle cx="399.1" cy="95.4" r="1.6" fill="#596b9a"/><circle cx="414.2" cy="93.6" r="1.6" fill="#586b9a"/><circle cx="402.0" cy="102.4" r="1.6" fill="#586b9a"/><circle cx="414.8" cy="93.9" r="1.6" fill="#586b9a"/><circle cx="404.8" cy="90.8" r="1.6" fill="#586b9a"/><circle cx="405.5" cy="106.4" r="1.6" fill="#586a9a"/><circle cx="400.4" cy="92.0" r="1.6" fill="#586a9a"/><circle cx="401.5" cy="91.2" r="1.6" fill="#586a9a"/><circle cx="401.9" cy="91.1" r="1.6" fill="#586a9a"/><circle cx="418.1" cy="103.7" r="1.6" fill="#586a9a"/><circle cx="417.5" cy="104.8" r="1.6" fill="#576a9a"/><circle cx="402.6" cy="103.1" r="1.6" fill="#576a9a"/><circle cx="404.9" cy="91.0" r="1.6" fill="#576a9a"/><circle cx="400.2" cy="98.8" r="1.6" fill="#576a9a"/><circle cx="402.8" cy="90.9" r="1.6" fill="#576a9a"/><circle cx="411.3" cy="108.4" r="1.6" fill="#576a99"/><circle cx="418.9" cy="99.3" r="1.6" fill="#576a99"/><circle cx="403.5" cy="104.1" r="1.6" fill="#576999"/><circle cx="400.9" cy="100.1" r="1.6" fill="#576999"/><circle cx="399.8" cy="97.5" r="1.6" fill="#576999"/><circle cx="401.1" cy="91.7" r="1.6" fill="#576999"/><circle cx="405.2" cy="105.9" r="1.6" fill="#576999"/><circle cx="409.2" cy="92.3" r="1.6" fill="#566999"/><circle cx="415.8" cy="106.4" r="1.6" fill="#566999"/><circle cx="402.0" cy="91.4" r="1.6" fill="#566999"/><circle cx="414.1" cy="107.5" r="1.6" fill="#566999"/><circle cx="401.1" cy="100.2" r="1.6" fill="#566999"/><circle cx="406.1" cy="91.4" r="1.6" fill="#566999"/><circle cx="414.4" cy="94.2" r="1.6" fill="#566999"/><circle cx="418.5" cy="101.8" r="1.6" fill="#566999"/><circle cx="416.5" cy="95.4" r="1.6" fill="#566999"/><circle cx="399.7" cy="94.7" r="1.6" fill="#566999"/><circle cx="405.0" cy="105.5" r="1.6" fill="#566999"/><circle cx="401.8" cy="91.5" r="1.6" fill="#566999"/><circle cx="417.9" cy="97.0" r="1.6" fill="#566999"/><circle cx="418.6" cy="100.9" r="1.6" fill="#566999"/><circle cx="418.7" cy="100.6" r="1.6" fill="#566898"/><circle cx="410.6" cy="108.1" r="1.6" fill="#566898"/><circle cx="401.1" cy="100.0" r="1.6" fill="#566898"/><circle cx="418.3" cy="102.3" r="1.6" fill="#556898"/><circle cx="401.0" cy="92.2" r="1.6" fill="#556898"/><circle cx="402.8" cy="102.6" r="1.6" fill="#556898"/><circle cx="404.1" cy="91.3" r="1.6" fill="#556898"/><circle cx="416.4" cy="105.5" r="1.6" fill="#556898"/><circle cx="401.4" cy="92.0" r="1.6" fill="#556898"/><circle cx="406.8" cy="106.8" r="1.6" fill="#556898"/><circle cx="418.2" cy="98.0" r="1.6" fill="#556898"/><circle cx="414.9" cy="106.8" r="1.6" fill="#556898"/><circle cx="410.9" cy="108.0" r="1.6" fill="#556898"/><circle cx="402.8" cy="91.5" r="1.6" fill="#556898"/><circle cx="412.3" cy="93.6" r="1.6" fill="#556898"/><circle cx="403.6" cy="91.5" r="1.6" fill="#546798"/><circle cx="407.9" cy="92.2" r="1.6" fill="#546798"/><circle cx="407.5" cy="107.1" r="1.6" fill="#546798"/><circle cx="409.3" cy="107.7" r="1.6" fill="#546798"/><circle cx="400.1" cy="96.6" r="1.6" fill="#546798"/><circle cx="401.0" cy="92.6" r="1.6" fill="#546798"/><circle cx="400.1" cy="94.9" r="1.6" fill="#546797"/><circle cx="404.1" cy="91.6" r="1.6" fill="#546797"/><circle cx="413.6" cy="94.3" r="1.6" fill="#546797"/><circle cx="417.6" cy="97.4" r="1.6" fill="#536797"/><circle cx="403.4" cy="91.7" r="1.6" fill="#536797"/><circle cx="418.2" cy="99.9" r="1.6" fill="#536697"/><circle cx="401.2" cy="92.9" r="1.6" fill="#536697"/><circle cx="401.5" cy="99.6" r="1.6" fill="#536697"/><circle cx="410.8" cy="93.4" r="1.6" fill="#536697"/><circle cx="403.0" cy="91.9" r="1.6" fill="#536697"/><circle cx="401.9" cy="92.5" r="1.6" fill="#526697"/><circle cx="403.5" cy="102.8" r="1.6" fill="#526596"/><circle cx="403.9" cy="103.2" r="1.6" fill="#526596"/><circle cx="412.7" cy="107.3" r="1.6" fill="#526596"/><circle cx="413.8" cy="94.7" r="1.6" fill="#526596"/><circle cx="400.9" cy="94.2" r="1.6" fill="#516596"/><circle cx="412.9" cy="107.1" r="1.6" fill="#516596"/><circle cx="405.6" cy="92.4" r="1.6" fill="#516496"/><circle cx="401.2" cy="97.5" r="1.6" fill="#516495"/><circle cx="407.1" cy="92.7" r="1.6" fill="#506495"/><circle cx="411.6" cy="107.3" r="1.6" fill="#506495"/><circle cx="417.5" cy="98.8" r="1.6" fill="#506495"/><circle cx="416.4" cy="104.4" r="1.6" fill="#506495"/><circle cx="413.6" cy="95.0" r="1.6" fill="#506495"/><circle cx="406.5" cy="105.5" r="1.6" fill="#506495"/><circle cx="402.1" cy="93.2" r="1.6" fill="#506395"/><circle cx="413.7" cy="95.1" r="1.6" fill="#506395"/><circle cx="405.6" cy="104.6" r="1.6" fill="#506395"/><circle cx="401.4" cy="97.4" r="1.6" fill="#506395"/><circle cx="411.2" cy="107.1" r="1.6" fill="#4f6395"/><circle cx="414.8" cy="105.8" r="1.6" fill="#4f6395"/><circle cx="407.1" cy="105.8" r="1.6" fill="#4f6394"/><circle cx="403.8" cy="92.7" r="1.6" fill="#4f6394"/><circle cx="417.3" cy="101.8" r="1.6" fill="#4f6394"/><circle cx="417.0" cy="98.2" r="1.6" fill="#4f6394"/><circle cx="410.1" cy="107.0" r="1.6" fill="#4f6394"/><circle cx="405.7" cy="92.8" r="1.6" fill="#4f6394"/><circle cx="409.2" cy="93.7" r="1.6" fill="#4f6294"/><circle cx="402.4" cy="99.5" r="1.6" fill="#4f6294"/><circle cx="409.4" cy="106.7" r="1.6" fill="#4f6294"/><circle cx="417.2" cy="101.9" r="1.6" fill="#4e6294"/><circle cx="402.8" cy="93.3" r="1.6" fill="#4e6294"/><circle cx="402.8" cy="100.1" r="1.6" fill="#4e6294"/><circle cx="401.6" cy="95.2" r="1.6" fill="#4e6294"/><circle cx="401.8" cy="94.7" r="1.6" fill="#4e6294"/><circle cx="411.7" cy="106.8" r="1.6" fill="#4e6294"/><circle cx="415.4" cy="104.9" r="1.6" fill="#4e6294"/><circle cx="416.7" cy="98.3" r="1.6" fill="#4e6294"/><circle cx="414.8" cy="105.4" r="1.6" fill="#4e6193"/><circle cx="415.3" cy="105.0" r="1.6" fill="#4d6193"/><circle cx="401.8" cy="97.0" r="1.6" fill="#4d6193"/><circle cx="413.9" cy="105.9" r="1.6" fill="#4d6193"/><circle cx="411.2" cy="94.6" r="1.6" fill="#4d6193"/><circle cx="415.4" cy="96.8" r="1.6" fill="#4d6193"/><circle cx="402.3" cy="94.3" r="1.6" fill="#4d6193"/><circle cx="409.5" cy="94.1" r="1.6" fill="#4d6193"/><circle cx="409.1" cy="106.3" r="1.6" fill="#4d6193"/><circle cx="414.7" cy="96.3" r="1.6" fill="#4d6193"/><circle cx="401.9" cy="96.0" r="1.6" fill="#4d6193"/><circle cx="402.2" cy="98.0" r="1.6" fill="#4d6193"/><circle cx="411.1" cy="94.7" r="1.6" fill="#4d6193"/><circle cx="404.8" cy="93.4" r="1.6" fill="#4c6093"/><circle cx="416.7" cy="99.1" r="1.6" fill="#4c6093"/><circle cx="415.5" cy="104.4" r="1.6" fill="#4c6093"/><circle cx="416.3" cy="98.3" r="1.6" fill="#4c6093"/><circle cx="404.4" cy="102.1" r="1.6" fill="#4c6093"/><circle cx="407.3" cy="105.2" r="1.6" fill="#4c6092"/><circle cx="402.2" cy="96.2" r="1.6" fill="#4c6092"/><circle cx="404.9" cy="93.5" r="1.6" fill="#4c6092"/><circle cx="403.5" cy="93.9" r="1.6" fill="#4c6092"/><circle cx="402.7" cy="94.8" r="1.6" fill="#4b6092"/><circle cx="402.4" cy="95.7" r="1.6" fill="#4b5f92"/><circle cx="410.0" cy="94.6" r="1.6" fill="#4b5f92"/><circle cx="403.8" cy="94.0" r="1.6" fill="#4b5f92"/><circle cx="413.1" cy="105.9" r="1.6" fill="#4b5f92"/><circle cx="405.2" cy="102.9" r="1.6" fill="#4b5f92"/><circle cx="409.6" cy="94.6" r="1.6" fill="#4b5f92"/><circle cx="416.6" cy="100.2" r="1.6" fill="#4b5f92"/><circle cx="416.3" cy="98.9" r="1.6" fill="#4b5f92"/><circle cx="413.1" cy="105.8" r="1.6" fill="#4b5f92"/><circle cx="413.4" cy="105.7" r="1.6" fill="#4b5f92"/><circle cx="415.2" cy="104.2" r="1.6" fill="#4b5f92"/><circle cx="414.9" cy="97.1" r="1.6" fill="#4b5f92"/><circle cx="408.4" cy="105.5" r="1.6" fill="#4a5f92"/><circle cx="404.8" cy="94.0" r="1.6" fill="#4a5f91"/><circle cx="403.4" cy="94.7" r="1.6" fill="#4a5f91"/><circle cx="405.3" cy="102.7" r="1.6" fill="#4a5f91"/><circle cx="415.7" cy="98.2" r="1.6" fill="#4a5e91"/><circle cx="403.2" cy="94.9" r="1.6" fill="#4a5e91"/><circle cx="403.5" cy="94.7" r="1.6" fill="#4a5e91"/><circle cx="416.1" cy="102.3" r="1.6" fill="#4a5e91"/><circle cx="409.9" cy="95.0" r="1.6" fill="#495e91"/><circle cx="407.4" cy="104.6" r="1.6" fill="#495e91"/><circle cx="404.2" cy="100.5" r="1.6" fill="#495e91"/><circle cx="411.3" cy="95.5" r="1.6" fill="#495e91"/><circle cx="404.5" cy="101.2" r="1.6" fill="#495e91"/><circle cx="415.3" cy="98.0" r="1.6" fill="#495e91"/><circle cx="407.5" cy="104.6" r="1.6" fill="#495e91"/><circle cx="403.7" cy="95.0" r="1.6" fill="#495e91"/><circle cx="404.8" cy="101.4" r="1.6" fill="#495d91"/><circle cx="403.2" cy="96.1" r="1.6" fill="#495d91"/><circle cx="411.8" cy="105.8" r="1.6" fill="#495d91"/><circle cx="403.2" cy="97.3" r="1.6" fill="#495d91"/><circle cx="408.0" cy="94.7" r="1.6" fill="#495d91"/><circle cx="407.9" cy="104.8" r="1.6" fill="#495d91"/><circle cx="416.1" cy="100.3" r="1.6" fill="#495d90"/><circle cx="414.7" cy="104.2" r="1.6" fill="#495d90"/><circle cx="403.3" cy="97.2" r="1.6" fill="#485d90"/><circle cx="410.3" cy="95.3" r="1.6" fill="#485d90"/><circle cx="403.6" cy="98.3" r="1.6" fill="#485d90"/><circle cx="409.6" cy="105.4" r="1.6" fill="#485c90"/><circle cx="415.7" cy="99.7" r="1.6" fill="#475c90"/><circle cx="411.6" cy="96.0" r="1.6" fill="#475c90"/><circle cx="413.4" cy="96.9" r="1.6" fill="#475c8f"/><circle cx="406.5" cy="95.0" r="1.6" fill="#475c8f"/><circle cx="415.6" cy="100.2" r="1.6" fill="#475b8f"/><circle cx="414.1" cy="97.6" r="1.6" fill="#475b8f"/><circle cx="415.4" cy="102.2" r="1.6" fill="#475b8f"/><circle cx="404.1" cy="96.7" r="1.6" fill="#465b8f"/><circle cx="407.3" cy="103.7" r="1.6" fill="#465b8f"/><circle cx="409.5" cy="95.6" r="1.6" fill="#465b8f"/><circle cx="406.2" cy="102.4" r="1.6" fill="#465b8f"/><circle cx="414.6" cy="103.5" r="1.6" fill="#465b8f"/><circle cx="404.2" cy="98.1" r="1.6" fill="#465b8f"/><circle cx="405.0" cy="100.3" r="1.6" fill="#465b8f"/><circle cx="413.4" cy="104.6" r="1.6" fill="#465b8f"/><circle cx="405.9" cy="101.9" r="1.6" fill="#465b8f"/><circle cx="414.6" cy="103.3" r="1.6" fill="#465b8f"/><circle cx="412.3" cy="104.9" r="1.6" fill="#465b8f"/><circle cx="415.4" cy="100.4" r="1.6" fill="#465b8f"/><circle cx="405.6" cy="95.6" r="1.6" fill="#465b8f"/><circle cx="405.1" cy="100.3" r="1.6" fill="#465b8f"/><circle cx="415.3" cy="101.3" r="1.6" fill="#455a8e"/><circle cx="406.3" cy="95.6" r="1.6" fill="#455a8e"/><circle cx="413.5" cy="97.7" r="1.6" fill="#455a8e"/><circle cx="405.8" cy="95.9" r="1.6" fill="#455a8e"/><circle cx="411.5" cy="96.6" r="1.6" fill="#455a8e"/><circle cx="413.8" cy="98.0" r="1.6" fill="#455a8e"/><circle cx="405.5" cy="96.2" r="1.6" fill="#445a8e"/><circle cx="407.9" cy="103.5" r="1.6" fill="#44598e"/><circle cx="413.3" cy="104.0" r="1.6" fill="#44598e"/><circle cx="414.5" cy="102.6" r="1.6" fill="#44598e"/><circle cx="414.9" cy="100.1" r="1.6" fill="#44598e"/><circle cx="414.9" cy="101.2" r="1.6" fill="#44598d"/><circle cx="407.9" cy="96.1" r="1.6" fill="#44598d"/><circle cx="408.3" cy="96.1" r="1.6" fill="#44598d"/><circle cx="408.4" cy="96.1" r="1.6" fill="#44598d"/><circle cx="414.1" cy="103.0" r="1.6" fill="#44598d"/><circle cx="406.6" cy="101.9" r="1.6" fill="#44598d"/><circle cx="405.9" cy="100.6" r="1.6" fill="#43598d"/><circle cx="406.5" cy="101.6" r="1.6" fill="#43588d"/><circle cx="413.4" cy="98.3" r="1.6" fill="#43588d"/><circle cx="410.2" cy="96.8" r="1.6" fill="#43588d"/><circle cx="414.2" cy="102.2" r="1.6" fill="#43588d"/><circle cx="410.3" cy="104.1" r="1.6" fill="#42588c"/><circle cx="410.7" cy="104.1" r="1.6" fill="#42578c"/><circle cx="406.4" cy="97.2" r="1.6" fill="#42578c"/><circle cx="410.4" cy="97.1" r="1.6" fill="#42578c"/><circle cx="409.1" cy="96.8" r="1.6" fill="#42578c"/><circle cx="414.0" cy="99.7" r="1.6" fill="#42578c"/><circle cx="409.2" cy="103.5" r="1.6" fill="#42578c"/><circle cx="406.6" cy="100.7" r="1.6" fill="#42578c"/><circle cx="413.7" cy="99.3" r="1.6" fill="#41578c"/><circle cx="411.3" cy="103.9" r="1.6" fill="#41578c"/><circle cx="411.5" cy="97.7" r="1.6" fill="#41578c"/><circle cx="408.7" cy="103.1" r="1.6" fill="#41578c"/><circle cx="413.9" cy="100.1" r="1.6" fill="#41578c"/><circle cx="406.4" cy="99.3" r="1.6" fill="#41568c"/><circle cx="408.3" cy="102.6" r="1.6" fill="#41568c"/><circle cx="408.6" cy="102.8" r="1.6" fill="#41568c"/><circle cx="407.4" cy="101.5" r="1.6" fill="#41568c"/><circle cx="412.7" cy="98.6" r="1.6" fill="#41568b"/><circle cx="413.7" cy="100.4" r="1.6" fill="#40568b"/><circle cx="408.7" cy="97.4" r="1.6" fill="#40568b"/><circle cx="411.7" cy="103.4" r="1.6" fill="#40568b"/><circle cx="408.1" cy="97.7" r="1.6" fill="#40568b"/><circle cx="412.4" cy="103.0" r="1.6" fill="#40568b"/><circle cx="412.9" cy="99.3" r="1.6" fill="#40558b"/><circle cx="407.7" cy="98.0" r="1.6" fill="#40558b"/><circle cx="407.6" cy="101.0" r="1.6" fill="#40558b"/><circle cx="407.1" cy="98.9" r="1.6" fill="#40558b"/><circle cx="407.2" cy="98.6" r="1.6" fill="#40558b"/><circle cx="413.5" cy="100.9" r="1.6" fill="#40558b"/><circle cx="408.6" cy="102.3" r="1.6" fill="#40558b"/><circle cx="408.6" cy="102.2" r="1.6" fill="#40558b"/><circle cx="409.8" cy="102.9" r="1.6" fill="#3f558b"/><circle cx="413.0" cy="100.0" r="1.6" fill="#3f558a"/><circle cx="409.6" cy="98.1" r="1.6" fill="#3f558a"/><circle cx="412.9" cy="100.3" r="1.6" fill="#3f558a"/><circle cx="411.8" cy="98.9" r="1.6" fill="#3f548a"/><circle cx="409.3" cy="102.3" r="1.6" fill="#3f548a"/><circle cx="412.8" cy="101.4" r="1.6" fill="#3e548a"/><circle cx="412.8" cy="101.1" r="1.6" fill="#3e548a"/><circle cx="412.4" cy="99.8" r="1.6" fill="#3e548a"/><circle cx="412.7" cy="101.2" r="1.6" fill="#3e548a"/><circle cx="410.9" cy="98.8" r="1.6" fill="#3e548a"/><circle cx="412.2" cy="102.1" r="1.6" fill="#3e548a"/><circle cx="408.6" cy="99.0" r="1.6" fill="#3e548a"/><circle cx="412.3" cy="101.5" r="1.6" fill="#3e548a"/><circle cx="411.4" cy="101.1" r="1.6" fill="#3e548a"/><circle cx="409.3" cy="99.8" r="1.6" fill="#3e548a"/><circle cx="410.5" cy="101.1" r="1.6" fill="#3e548a"/><circle cx="411.5" cy="102.0" r="1.6" fill="#3e548a"/><circle cx="410.9" cy="100.9" r="1.6" fill="#3e548a"/><circle cx="409.1" cy="100.3" r="1.6" fill="#3e548a"/><circle cx="409.1" cy="101.2" r="1.6" fill="#3e548a"/>
</g>
<g font-size="7.4">
<text x="358.8" y="43.8">rho=0.37</text>
<text x="397.9" y="43.8">2,246 genes</text>
</g>
<g font-size="8" text-anchor="end" transform="translate(347.6 0) scale(0.92 1) translate(-347.6 0)">
<text x="347.6" y="52.8">15</text>
<text x="347.6" y="76.8">10</text>
<text x="347.6" y="100.8">5</text>
<text x="347.6" y="124.8">0</text>
<text x="347.6" y="148.8">−5</text>
<text x="347.6" y="172.8">−10</text>
</g>
<g font-size="8" text-anchor="middle">
<text x="370" y="188" transform="translate(370 0) scale(0.92 1) translate(-370 0)">−10</text>
<text x="407.2" y="188" transform="translate(407.2 0) scale(0.92 1) translate(-407.2 0)">−5</text>
<text x="444.5" y="188" transform="translate(444.5 0) scale(0.92 1) translate(-444.5 0)">0</text>
<text x="481.6" y="188" transform="translate(481.6 0) scale(0.92 1) translate(-481.6 0)">5</text>
</g>
<text x="361" y="203" font-size="9.8" textLength="127.4" lengthAdjust="spacingAndGlyphs">Ribosome footprint density [log2]</text>
<text transform="translate(327.8,110) rotate(-90)" text-anchor="middle" font-size="9.7" textLength="98" lengthAdjust="spacingAndGlyphs">Protein level (ppm) [log2]</text>
<g stroke="#1d1a1b" stroke-width="1.5" fill="none">
<path d="M353 49.3V172.8"/>
<path d="M350 50H353M350 74H353M350 98H353M350 122H353M350 146H353M350 170H353" stroke-width="1.3"/>
<path d="M367 174.6H484.5"/>
<path d="M370.3 174.6V177.5M407.3 174.6V177.5M444.5 174.6V177.5M481.6 174.6V177.5" stroke-width="1.3"/>
</g>

<!-- Panel C -->
<g font-size="7.8" class="b" style="font-weight:bold">
<text x="217.7" y="249.3" textLength="77.3" lengthAdjust="spacingAndGlyphs" style="fill:#2f4a80;stroke:#2f4a80">RNA-Seq, Ribo-Prof,</text>
<text x="217.7" y="258.1" textLength="95.1" lengthAdjust="spacingAndGlyphs" style="fill:#2f4a80;stroke:#2f4a80">and Mass-Spec Supported</text>
</g>
<text x="211.9" y="270.2" font-size="6.66" class="i" style="stroke-width:0.1px" textLength="94.6" lengthAdjust="spacingAndGlyphs">(+RNA; +RiboProf; +MassSpec)</text>
<text x="165.6" y="270.2" font-size="7.33" class="b">Process</text>
<text x="328.7" y="271.2" font-size="7.4" class="b">q-value</text>
<g font-size="7.55" text-anchor="end">
<text x="206.3" y="282.40">intracellular transport</text>
<text x="206.3" y="291.02">single–organism intracellular transport</text>
<text x="206.3" y="299.65">cellular macromolecule metabolic process</text>
<text x="206.3" y="308.27">establishment of localization in cell</text>
<text x="206.3" y="316.90">cytoplasmic transport</text>
<text x="206.3" y="325.52">gene expression</text>
<text x="206.3" y="334.15">viral process</text>
<text x="206.3" y="342.77">symbiosis, encompassing mutualism through parasitism</text>
<text x="206.3" y="351.40">protein transport</text>
<text x="206.3" y="360.02">establishment of protein localization</text>
<text x="206.3" y="368.65">multi–organism cellular process</text>
<text x="206.3" y="377.27">interspecies interaction between organisms</text>
<text x="206.3" y="385.90">protein localization</text>
<text x="206.3" y="394.52">macromolecule localization</text>
<text x="206.3" y="403.15">cellular component organization</text>
<text x="206.3" y="411.77">cellular component organization or biogenesis</text>
<text x="206.3" y="420.40">intracellular protein transport</text>
<text x="206.3" y="429.02">macromolecule metabolic process</text>
<text x="206.3" y="437.65">nucleic acid metabolic process</text>
<text x="206.3" y="446.27">organic substance transport</text>
<text x="206.3" y="454.90">membrane organization</text>
</g><g fill="#2c4a80" stroke="#233a66" stroke-width="0.5">
<rect x="212.9" y="276.75" width="98.9" height="6.8"/>
<rect x="212.9" y="285.38" width="99.3" height="6.8"/>
<rect x="212.9" y="294.00" width="87.0" height="6.8"/>
<rect x="212.9" y="302.62" width="105.6" height="6.8"/>
<rect x="212.9" y="311.25" width="94.1" height="6.8"/>
<rect x="212.9" y="319.88" width="101.9" height="6.8"/>
<rect x="212.9" y="328.50" width="105.6" height="6.8"/>
<rect x="212.9" y="337.12" width="105.6" height="6.8"/>
<rect x="212.9" y="345.75" width="95.5" height="6.8"/>
<rect x="212.9" y="354.38" width="94.9" height="6.8"/>
<rect x="212.9" y="363.00" width="104.0" height="6.8"/>
<rect x="212.9" y="371.62" width="101.1" height="6.8"/>
<rect x="212.9" y="380.25" width="93.1" height="6.8"/>
<rect x="212.9" y="388.88" width="93.1" height="6.8"/>
<rect x="212.9" y="397.50" width="85.4" height="6.8"/>
<rect x="212.9" y="406.12" width="85.4" height="6.8"/>
<rect x="212.9" y="414.75" width="99.1" height="6.8"/>
<rect x="212.9" y="423.38" width="84.0" height="6.8"/>
<rect x="212.9" y="432.00" width="91.0" height="6.8"/>
<rect x="212.9" y="440.62" width="90.0" height="6.8"/>
<rect x="212.9" y="449.25" width="97.1" height="6.8"/>
</g><g font-size="7.6">
<text x="324.3" y="282.80">3.54x10<tspan font-size="4.6" dx="0.5" dy="-3.6">-16</tspan></text>
<text x="324.3" y="291.43">8.20x10<tspan font-size="4.6" dx="0.5" dy="-3.6">-16</tspan></text>
<text x="324.3" y="300.05">2.20x10<tspan font-size="4.6" dx="0.5" dy="-3.6">-15</tspan></text>
<text x="324.3" y="308.68">3.18x10<tspan font-size="4.6" dx="0.5" dy="-3.6">-14</tspan></text>
<text x="324.3" y="317.30">5.84x10<tspan font-size="4.6" dx="0.5" dy="-3.6">-14</tspan></text>
<text x="324.3" y="325.93">8.91x10<tspan font-size="4.6" dx="0.5" dy="-3.6">-13</tspan></text>
<text x="324.3" y="334.55">4.22x10<tspan font-size="4.6" dx="0.5" dy="-3.6">-12</tspan></text>
<text x="324.3" y="343.18">3.69x10<tspan font-size="4.6" dx="0.5" dy="-3.6">-12</tspan></text>
<text x="324.3" y="351.80">6.98x10<tspan font-size="4.6" dx="0.5" dy="-3.6">-12</tspan></text>
<text x="324.3" y="360.43">1.51x10<tspan font-size="4.6" dx="0.5" dy="-3.6">-11</tspan></text>
<text x="324.3" y="369.05">2.31x10<tspan font-size="4.6" dx="0.5" dy="-3.6">-11</tspan></text>
<text x="324.3" y="377.68">2.20x10<tspan font-size="4.6" dx="0.5" dy="-3.6">-11</tspan></text>
<text x="324.3" y="386.30">2.41x10<tspan font-size="4.6" dx="0.5" dy="-3.6">-11</tspan></text>
<text x="324.3" y="394.93">2.61x10<tspan font-size="4.6" dx="0.5" dy="-3.6">-11</tspan></text>
<text x="324.3" y="403.55">3.41x10<tspan font-size="4.6" dx="0.5" dy="-3.6">-11</tspan></text>
<text x="324.3" y="412.18">3.65x10<tspan font-size="4.6" dx="0.5" dy="-3.6">-11</tspan></text>
<text x="324.3" y="420.80">2.36x10<tspan font-size="4.6" dx="0.5" dy="-3.6">-10</tspan></text>
<text x="324.3" y="429.43">3.65x10<tspan font-size="4.6" dx="0.5" dy="-3.6">-10</tspan></text>
<text x="324.3" y="438.05">5.53x10<tspan font-size="4.6" dx="0.5" dy="-3.6">-10</tspan></text>
<text x="324.3" y="446.68">1.32x10<tspan font-size="4.6" dx="0.5" dy="-3.6">-09</tspan></text>
<text x="324.3" y="455.30">2.11x10<tspan font-size="4.6" dx="0.5" dy="-3.6">-09</tspan></text>
</g>
<g stroke="#1d1a1b" stroke-width="1.4" fill="none">
<path d="M209.6 459.1H321.3"/>
<path d="M212.50 459V461.8M227.58 459V461.8M242.66 459V461.8M257.74 459V461.8M272.82 459V461.8M287.90 459V461.8M302.98 459V461.8M318.06 459V461.8"/>
</g>
<g font-size="8.3" text-anchor="middle">
<text x="212.50" y="471.8" transform="translate(212.50 0) scale(0.9 1) translate(-212.50 0)">0.0</text><text x="227.58" y="471.8" transform="translate(227.58 0) scale(0.9 1) translate(-227.58 0)">0.2</text><text x="242.66" y="471.8" transform="translate(242.66 0) scale(0.9 1) translate(-242.66 0)">0.4</text><text x="257.74" y="471.8" transform="translate(257.74 0) scale(0.9 1) translate(-257.74 0)">0.6</text><text x="272.82" y="471.8" transform="translate(272.82 0) scale(0.9 1) translate(-272.82 0)">0.8</text><text x="287.90" y="471.8" transform="translate(287.90 0) scale(0.9 1) translate(-287.90 0)">1.0</text><text x="302.98" y="471.8" transform="translate(302.98 0) scale(0.9 1) translate(-302.98 0)">1.2</text><text x="318.06" y="471.8" transform="translate(318.06 0) scale(0.9 1) translate(-318.06 0)">1.4</text>
</g>
<text x="244" y="485.7" font-size="10.5" textLength="43" lengthAdjust="spacingAndGlyphs">Enrichment</text>
</svg>
</body></html>
